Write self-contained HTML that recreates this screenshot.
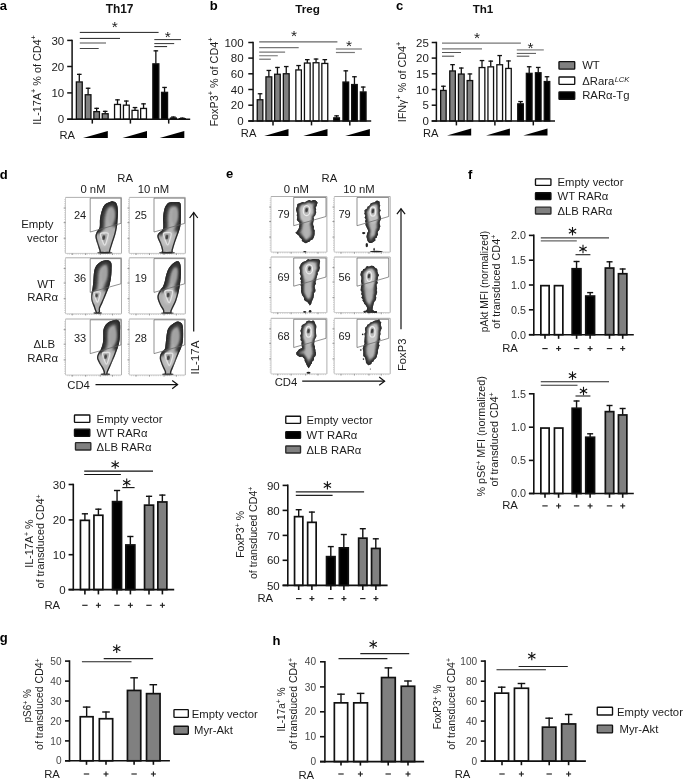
<!DOCTYPE html>
<html><head><meta charset="utf-8"><title>Figure</title>
<style>html,body{margin:0;padding:0;background:#fff;}svg{display:block;filter:grayscale(1);}text{font-family:"Liberation Sans",sans-serif;}</style>
</head><body>
<svg width="685" height="779" viewBox="0 0 685 779">
<rect x="0" y="0" width="685" height="779" fill="#fff"/>
<defs>
<filter id="b1" x="-30%" y="-30%" width="160%" height="160%"><feGaussianBlur stdDeviation="1.1"/></filter>
<filter id="b2" x="-30%" y="-30%" width="160%" height="160%"><feGaussianBlur stdDeviation="1.8"/></filter>
<filter id="b14" x="-30%" y="-30%" width="160%" height="160%"><feGaussianBlur stdDeviation="1.4"/></filter>
<filter id="b08" x="-30%" y="-30%" width="160%" height="160%"><feGaussianBlur stdDeviation="0.8"/></filter>
<filter id="soft" x="-10%" y="-10%" width="120%" height="120%"><feGaussianBlur stdDeviation="0.4"/></filter>
<filter id="b05" x="-30%" y="-30%" width="160%" height="160%"><feGaussianBlur stdDeviation="0.6"/></filter>
</defs>
<text x="-0.3" y="10.2" font-size="13" text-anchor="start" font-weight="bold" fill="#000" >a</text>
<text x="119.6" y="13.3" font-size="11.9" text-anchor="middle" font-weight="bold" fill="#111" >Th17</text>
<line x1="79.3" y1="81.8" x2="79.3" y2="73.8" stroke="#111" stroke-width="1.3" stroke-linecap="butt"/>
<line x1="77" y1="74.35" x2="81.6" y2="74.35" stroke="#111" stroke-width="1.3" stroke-linecap="butt"/>
<rect x="76.35" y="81.95" width="5.9" height="37.25" fill="#808080" stroke="#111" stroke-width="1.3"/>
<line x1="88.1" y1="94.6" x2="88.1" y2="87.7" stroke="#111" stroke-width="1.3" stroke-linecap="butt"/>
<line x1="85.8" y1="88.25" x2="90.4" y2="88.25" stroke="#111" stroke-width="1.3" stroke-linecap="butt"/>
<rect x="85.25" y="94.75" width="5.7" height="24.45" fill="#808080" stroke="#111" stroke-width="1.3"/>
<line x1="96.65" y1="111.5" x2="96.65" y2="107.8" stroke="#111" stroke-width="1.3" stroke-linecap="butt"/>
<line x1="94.35" y1="108.35" x2="98.95" y2="108.35" stroke="#111" stroke-width="1.3" stroke-linecap="butt"/>
<rect x="93.85" y="111.65" width="5.6" height="7.55" fill="#808080" stroke="#111" stroke-width="1.3"/>
<line x1="105.2" y1="113.6" x2="105.2" y2="110.8" stroke="#111" stroke-width="1.3" stroke-linecap="butt"/>
<line x1="102.9" y1="111.35" x2="107.5" y2="111.35" stroke="#111" stroke-width="1.3" stroke-linecap="butt"/>
<rect x="102.25" y="113.75" width="5.9" height="5.45" fill="#808080" stroke="#111" stroke-width="1.3"/>
<line x1="117.5" y1="104.3" x2="117.5" y2="99.3" stroke="#111" stroke-width="1.3" stroke-linecap="butt"/>
<line x1="115.2" y1="99.85" x2="119.8" y2="99.85" stroke="#111" stroke-width="1.3" stroke-linecap="butt"/>
<rect x="114.55" y="104.45" width="5.9" height="14.75" fill="#ffffff" stroke="#111" stroke-width="1.3"/>
<line x1="126.35" y1="105" x2="126.35" y2="100.5" stroke="#111" stroke-width="1.3" stroke-linecap="butt"/>
<line x1="124.05" y1="101.05" x2="128.65" y2="101.05" stroke="#111" stroke-width="1.3" stroke-linecap="butt"/>
<rect x="123.45" y="105.15" width="5.8" height="14.05" fill="#ffffff" stroke="#111" stroke-width="1.3"/>
<line x1="135" y1="110.2" x2="135" y2="107" stroke="#111" stroke-width="1.3" stroke-linecap="butt"/>
<line x1="132.7" y1="107.55" x2="137.3" y2="107.55" stroke="#111" stroke-width="1.3" stroke-linecap="butt"/>
<rect x="132.05" y="110.35" width="5.9" height="8.85" fill="#ffffff" stroke="#111" stroke-width="1.3"/>
<line x1="143.55" y1="108.3" x2="143.55" y2="103.3" stroke="#111" stroke-width="1.3" stroke-linecap="butt"/>
<line x1="141.25" y1="103.85" x2="145.85" y2="103.85" stroke="#111" stroke-width="1.3" stroke-linecap="butt"/>
<rect x="140.65" y="108.45" width="5.8" height="10.75" fill="#ffffff" stroke="#111" stroke-width="1.3"/>
<line x1="155.85" y1="63.7" x2="155.85" y2="50.3" stroke="#111" stroke-width="1.3" stroke-linecap="butt"/>
<line x1="153.55" y1="50.85" x2="158.15" y2="50.85" stroke="#111" stroke-width="1.3" stroke-linecap="butt"/>
<rect x="152.85" y="63.85" width="6" height="55.35" fill="#000000" stroke="#111" stroke-width="1.3"/>
<line x1="164.55" y1="92.2" x2="164.55" y2="86.9" stroke="#111" stroke-width="1.3" stroke-linecap="butt"/>
<line x1="162.25" y1="87.45" x2="166.85" y2="87.45" stroke="#111" stroke-width="1.3" stroke-linecap="butt"/>
<rect x="161.55" y="92.35" width="6" height="26.85" fill="#000000" stroke="#111" stroke-width="1.3"/>
<line x1="173.4" y1="117.9" x2="173.4" y2="116.5" stroke="#111" stroke-width="1.3" stroke-linecap="butt"/>
<line x1="171.1" y1="117.05" x2="175.7" y2="117.05" stroke="#111" stroke-width="1.3" stroke-linecap="butt"/>
<rect x="169.8" y="117.4" width="7.2" height="1.8" fill="#111"/>
<line x1="182.3" y1="118.5" x2="182.3" y2="117.6" stroke="#111" stroke-width="1.3" stroke-linecap="butt"/>
<line x1="180" y1="118.15" x2="184.6" y2="118.15" stroke="#111" stroke-width="1.3" stroke-linecap="butt"/>
<rect x="178.7" y="118" width="7.2" height="1.2" fill="#111"/>
<line x1="72.1" y1="39.65" x2="72.1" y2="119.95" stroke="#111" stroke-width="1.5" stroke-linecap="butt"/>
<line x1="67.2" y1="119.2" x2="190.2" y2="119.2" stroke="#111" stroke-width="1.5" stroke-linecap="butt"/>
<line x1="67.2" y1="40.4" x2="72.1" y2="40.4" stroke="#111" stroke-width="1.5" stroke-linecap="butt"/>
<text x="64.2" y="44.52" font-size="11.5" text-anchor="end" font-weight="normal" fill="#1c1c1c" >30</text>
<line x1="67.2" y1="66.5" x2="72.1" y2="66.5" stroke="#111" stroke-width="1.5" stroke-linecap="butt"/>
<text x="64.2" y="70.62" font-size="11.5" text-anchor="end" font-weight="normal" fill="#1c1c1c" >20</text>
<line x1="67.2" y1="92.9" x2="72.1" y2="92.9" stroke="#111" stroke-width="1.5" stroke-linecap="butt"/>
<text x="64.2" y="97.02" font-size="11.5" text-anchor="end" font-weight="normal" fill="#1c1c1c" >10</text>
<line x1="67.2" y1="119.2" x2="72.1" y2="119.2" stroke="#111" stroke-width="1.5" stroke-linecap="butt"/>
<text x="64.2" y="123.32" font-size="11.5" text-anchor="end" font-weight="normal" fill="#1c1c1c" >0</text>
<line x1="92.3" y1="119.2" x2="92.3" y2="123.6" stroke="#111" stroke-width="1.5" stroke-linecap="butt"/>
<line x1="130.4" y1="119.2" x2="130.4" y2="123.6" stroke="#111" stroke-width="1.5" stroke-linecap="butt"/>
<line x1="168.7" y1="119.2" x2="168.7" y2="123.6" stroke="#111" stroke-width="1.5" stroke-linecap="butt"/>
<text x="41.1" y="80" font-size="10.8" text-anchor="middle" font-weight="normal" fill="#1c1c1c" transform="rotate(-90 41.1 80)" >IL-17A<tspan font-size="7.34" dy="-4.97">+</tspan><tspan dy="4.97"> % of CD4</tspan><tspan font-size="7.34" dy="-4.97">+</tspan></text>
<text x="59.5" y="138.7" font-size="11.2" text-anchor="start" font-weight="normal" fill="#1c1c1c" >RA</text>
<polygon points="83,138 107.8,138 107.8,131" fill="#000"/>
<polygon points="122.5,138 147,138 147,131" fill="#000"/>
<polygon points="159.7,138 184.3,138 184.3,131" fill="#000"/>
<line x1="79.8" y1="32.4" x2="158.6" y2="32.4" stroke="#222" stroke-width="1" stroke-linecap="butt"/>
<line x1="79.8" y1="38.4" x2="120" y2="38.4" stroke="#222" stroke-width="1" stroke-linecap="butt"/>
<line x1="79.8" y1="43" x2="106" y2="43" stroke="#777" stroke-width="1.3" stroke-linecap="butt"/>
<line x1="79.8" y1="48.5" x2="98.7" y2="48.5" stroke="#444" stroke-width="1" stroke-linecap="butt"/>
<text x="114.7" y="32.48" font-size="15.5" text-anchor="middle" font-weight="normal" fill="#1c1c1c" >*</text>
<line x1="154.3" y1="39.6" x2="181" y2="39.6" stroke="#333" stroke-width="1" stroke-linecap="butt"/>
<line x1="154.3" y1="43.6" x2="174.2" y2="43.6" stroke="#333" stroke-width="1" stroke-linecap="butt"/>
<line x1="154.3" y1="46.6" x2="167.1" y2="46.6" stroke="#222" stroke-width="1" stroke-linecap="butt"/>
<text x="167.7" y="42.09" font-size="15.5" text-anchor="middle" font-weight="normal" fill="#1c1c1c" >*</text>
<text x="209.8" y="10.2" font-size="13" text-anchor="start" font-weight="bold" fill="#000" >b</text>
<text x="307.5" y="13.3" font-size="11.7" text-anchor="middle" font-weight="bold" fill="#111" >Treg</text>
<line x1="260.05" y1="99.6" x2="260.05" y2="93.2" stroke="#111" stroke-width="1.3" stroke-linecap="butt"/>
<line x1="257.75" y1="93.75" x2="262.35" y2="93.75" stroke="#111" stroke-width="1.3" stroke-linecap="butt"/>
<rect x="257.25" y="99.75" width="5.6" height="21.25" fill="#808080" stroke="#111" stroke-width="1.3"/>
<line x1="268.85" y1="76.7" x2="268.85" y2="69.9" stroke="#111" stroke-width="1.3" stroke-linecap="butt"/>
<line x1="266.55" y1="70.45" x2="271.15" y2="70.45" stroke="#111" stroke-width="1.3" stroke-linecap="butt"/>
<rect x="265.95" y="76.85" width="5.8" height="44.15" fill="#808080" stroke="#111" stroke-width="1.3"/>
<line x1="277.45" y1="74.1" x2="277.45" y2="66.9" stroke="#111" stroke-width="1.3" stroke-linecap="butt"/>
<line x1="275.15" y1="67.45" x2="279.75" y2="67.45" stroke="#111" stroke-width="1.3" stroke-linecap="butt"/>
<rect x="274.65" y="74.25" width="5.6" height="46.75" fill="#808080" stroke="#111" stroke-width="1.3"/>
<line x1="286.25" y1="73.6" x2="286.25" y2="66" stroke="#111" stroke-width="1.3" stroke-linecap="butt"/>
<line x1="283.95" y1="66.55" x2="288.55" y2="66.55" stroke="#111" stroke-width="1.3" stroke-linecap="butt"/>
<rect x="283.35" y="73.75" width="5.8" height="47.25" fill="#808080" stroke="#111" stroke-width="1.3"/>
<line x1="298.6" y1="69.8" x2="298.6" y2="65" stroke="#111" stroke-width="1.3" stroke-linecap="butt"/>
<line x1="296.3" y1="65.55" x2="300.9" y2="65.55" stroke="#111" stroke-width="1.3" stroke-linecap="butt"/>
<rect x="295.85" y="69.95" width="5.5" height="51.05" fill="#ffffff" stroke="#111" stroke-width="1.3"/>
<line x1="307.3" y1="62.9" x2="307.3" y2="59.1" stroke="#111" stroke-width="1.3" stroke-linecap="butt"/>
<line x1="305" y1="59.65" x2="309.6" y2="59.65" stroke="#111" stroke-width="1.3" stroke-linecap="butt"/>
<rect x="304.45" y="63.05" width="5.7" height="57.95" fill="#ffffff" stroke="#111" stroke-width="1.3"/>
<line x1="316.05" y1="62.6" x2="316.05" y2="58.5" stroke="#111" stroke-width="1.3" stroke-linecap="butt"/>
<line x1="313.75" y1="59.05" x2="318.35" y2="59.05" stroke="#111" stroke-width="1.3" stroke-linecap="butt"/>
<rect x="313.15" y="62.75" width="5.8" height="58.25" fill="#ffffff" stroke="#111" stroke-width="1.3"/>
<line x1="324.8" y1="63.3" x2="324.8" y2="59.1" stroke="#111" stroke-width="1.3" stroke-linecap="butt"/>
<line x1="322.5" y1="59.65" x2="327.1" y2="59.65" stroke="#111" stroke-width="1.3" stroke-linecap="butt"/>
<rect x="321.85" y="63.45" width="5.9" height="57.55" fill="#ffffff" stroke="#111" stroke-width="1.3"/>
<line x1="336.6" y1="117.7" x2="336.6" y2="115.3" stroke="#111" stroke-width="1.3" stroke-linecap="butt"/>
<line x1="334.3" y1="115.85" x2="338.9" y2="115.85" stroke="#111" stroke-width="1.3" stroke-linecap="butt"/>
<rect x="333.75" y="117.85" width="5.7" height="3.15" fill="#000000" stroke="#111" stroke-width="1.3"/>
<line x1="345.8" y1="81.9" x2="345.8" y2="70.3" stroke="#111" stroke-width="1.3" stroke-linecap="butt"/>
<line x1="343.5" y1="70.85" x2="348.1" y2="70.85" stroke="#111" stroke-width="1.3" stroke-linecap="butt"/>
<rect x="342.95" y="82.05" width="5.7" height="38.95" fill="#000000" stroke="#111" stroke-width="1.3"/>
<line x1="354.45" y1="84.4" x2="354.45" y2="76.2" stroke="#111" stroke-width="1.3" stroke-linecap="butt"/>
<line x1="352.15" y1="76.75" x2="356.75" y2="76.75" stroke="#111" stroke-width="1.3" stroke-linecap="butt"/>
<rect x="351.65" y="84.55" width="5.6" height="36.45" fill="#000000" stroke="#111" stroke-width="1.3"/>
<line x1="363.2" y1="91.8" x2="363.2" y2="86.5" stroke="#111" stroke-width="1.3" stroke-linecap="butt"/>
<line x1="360.9" y1="87.05" x2="365.5" y2="87.05" stroke="#111" stroke-width="1.3" stroke-linecap="butt"/>
<rect x="360.35" y="91.95" width="5.7" height="29.05" fill="#000000" stroke="#111" stroke-width="1.3"/>
<line x1="253.1" y1="41.75" x2="253.1" y2="121.75" stroke="#111" stroke-width="1.5" stroke-linecap="butt"/>
<line x1="248.3" y1="121" x2="371.2" y2="121" stroke="#111" stroke-width="1.5" stroke-linecap="butt"/>
<line x1="248.3" y1="42.5" x2="253.1" y2="42.5" stroke="#111" stroke-width="1.5" stroke-linecap="butt"/>
<text x="243.6" y="46.62" font-size="11.5" text-anchor="end" font-weight="normal" fill="#1c1c1c" >100</text>
<line x1="248.3" y1="58.1" x2="253.1" y2="58.1" stroke="#111" stroke-width="1.5" stroke-linecap="butt"/>
<text x="243.6" y="62.22" font-size="11.5" text-anchor="end" font-weight="normal" fill="#1c1c1c" >80</text>
<line x1="248.3" y1="73.8" x2="253.1" y2="73.8" stroke="#111" stroke-width="1.5" stroke-linecap="butt"/>
<text x="243.6" y="77.92" font-size="11.5" text-anchor="end" font-weight="normal" fill="#1c1c1c" >60</text>
<line x1="248.3" y1="89.5" x2="253.1" y2="89.5" stroke="#111" stroke-width="1.5" stroke-linecap="butt"/>
<text x="243.6" y="93.62" font-size="11.5" text-anchor="end" font-weight="normal" fill="#1c1c1c" >40</text>
<line x1="248.3" y1="105.2" x2="253.1" y2="105.2" stroke="#111" stroke-width="1.5" stroke-linecap="butt"/>
<text x="243.6" y="109.32" font-size="11.5" text-anchor="end" font-weight="normal" fill="#1c1c1c" >20</text>
<line x1="248.3" y1="121" x2="253.1" y2="121" stroke="#111" stroke-width="1.5" stroke-linecap="butt"/>
<text x="243.6" y="125.12" font-size="11.5" text-anchor="end" font-weight="normal" fill="#1c1c1c" >0</text>
<line x1="273" y1="121" x2="273" y2="125.4" stroke="#111" stroke-width="1.5" stroke-linecap="butt"/>
<line x1="311.5" y1="121" x2="311.5" y2="125.4" stroke="#111" stroke-width="1.5" stroke-linecap="butt"/>
<line x1="349.8" y1="121" x2="349.8" y2="125.4" stroke="#111" stroke-width="1.5" stroke-linecap="butt"/>
<text x="218.3" y="82" font-size="10.8" text-anchor="middle" font-weight="normal" fill="#1c1c1c" transform="rotate(-90 218.3 82)" >FoxP3<tspan font-size="7.34" dy="-4.97">+</tspan><tspan dy="4.97"> % of CD4</tspan><tspan font-size="7.34" dy="-4.97">+</tspan></text>
<text x="240.8" y="137" font-size="11.2" text-anchor="start" font-weight="normal" fill="#1c1c1c" >RA</text>
<polygon points="264.2,136 288.5,136 288.5,129" fill="#000"/>
<polygon points="303.3,136 327.5,136 327.5,129" fill="#000"/>
<polygon points="345.2,136 369.9,136 369.9,129" fill="#000"/>
<line x1="259.2" y1="41.9" x2="337.4" y2="41.9" stroke="#666" stroke-width="1.2" stroke-linecap="butt"/>
<line x1="259.2" y1="47.7" x2="298.7" y2="47.7" stroke="#777" stroke-width="1.2" stroke-linecap="butt"/>
<line x1="259.2" y1="52.1" x2="285.1" y2="52.1" stroke="#555" stroke-width="1" stroke-linecap="butt"/>
<line x1="259.2" y1="55.7" x2="277.8" y2="55.7" stroke="#888" stroke-width="1.2" stroke-linecap="butt"/>
<line x1="259.2" y1="59.2" x2="270.8" y2="59.2" stroke="#555" stroke-width="1" stroke-linecap="butt"/>
<text x="294" y="41.28" font-size="15.5" text-anchor="middle" font-weight="normal" fill="#1c1c1c" >*</text>
<line x1="335.9" y1="49" x2="361.9" y2="49" stroke="#777" stroke-width="1.2" stroke-linecap="butt"/>
<line x1="335.9" y1="52.5" x2="354.9" y2="52.5" stroke="#777" stroke-width="1.2" stroke-linecap="butt"/>
<text x="348.9" y="50.78" font-size="15.5" text-anchor="middle" font-weight="normal" fill="#1c1c1c" >*</text>
<text x="396" y="10.2" font-size="13" text-anchor="start" font-weight="bold" fill="#000" >c</text>
<text x="483" y="13.3" font-size="11.6" text-anchor="middle" font-weight="bold" fill="#111" >Th1</text>
<line x1="443.4" y1="90.3" x2="443.4" y2="85.7" stroke="#111" stroke-width="1.3" stroke-linecap="butt"/>
<line x1="441.1" y1="86.25" x2="445.7" y2="86.25" stroke="#111" stroke-width="1.3" stroke-linecap="butt"/>
<rect x="440.65" y="90.45" width="5.5" height="30.55" fill="#808080" stroke="#111" stroke-width="1.3"/>
<line x1="452.55" y1="70.8" x2="452.55" y2="64.1" stroke="#111" stroke-width="1.3" stroke-linecap="butt"/>
<line x1="450.25" y1="64.65" x2="454.85" y2="64.65" stroke="#111" stroke-width="1.3" stroke-linecap="butt"/>
<rect x="449.75" y="70.95" width="5.6" height="50.05" fill="#808080" stroke="#111" stroke-width="1.3"/>
<line x1="461.3" y1="73.9" x2="461.3" y2="67.5" stroke="#111" stroke-width="1.3" stroke-linecap="butt"/>
<line x1="459" y1="68.05" x2="463.6" y2="68.05" stroke="#111" stroke-width="1.3" stroke-linecap="butt"/>
<rect x="458.45" y="74.05" width="5.7" height="46.95" fill="#808080" stroke="#111" stroke-width="1.3"/>
<line x1="469.9" y1="80.4" x2="469.9" y2="73.4" stroke="#111" stroke-width="1.3" stroke-linecap="butt"/>
<line x1="467.6" y1="73.95" x2="472.2" y2="73.95" stroke="#111" stroke-width="1.3" stroke-linecap="butt"/>
<rect x="467.15" y="80.55" width="5.5" height="40.45" fill="#808080" stroke="#111" stroke-width="1.3"/>
<line x1="482" y1="67.4" x2="482" y2="60" stroke="#111" stroke-width="1.3" stroke-linecap="butt"/>
<line x1="479.7" y1="60.55" x2="484.3" y2="60.55" stroke="#111" stroke-width="1.3" stroke-linecap="butt"/>
<rect x="479.15" y="67.55" width="5.7" height="53.45" fill="#ffffff" stroke="#111" stroke-width="1.3"/>
<line x1="490.75" y1="66.7" x2="490.75" y2="60.6" stroke="#111" stroke-width="1.3" stroke-linecap="butt"/>
<line x1="488.45" y1="61.15" x2="493.05" y2="61.15" stroke="#111" stroke-width="1.3" stroke-linecap="butt"/>
<rect x="487.95" y="66.85" width="5.6" height="54.15" fill="#ffffff" stroke="#111" stroke-width="1.3"/>
<line x1="499.7" y1="64.6" x2="499.7" y2="55" stroke="#111" stroke-width="1.3" stroke-linecap="butt"/>
<line x1="497.4" y1="55.55" x2="502" y2="55.55" stroke="#111" stroke-width="1.3" stroke-linecap="butt"/>
<rect x="496.85" y="64.75" width="5.7" height="56.25" fill="#ffffff" stroke="#111" stroke-width="1.3"/>
<line x1="508.5" y1="68.3" x2="508.5" y2="60.4" stroke="#111" stroke-width="1.3" stroke-linecap="butt"/>
<line x1="506.2" y1="60.95" x2="510.8" y2="60.95" stroke="#111" stroke-width="1.3" stroke-linecap="butt"/>
<rect x="505.75" y="68.45" width="5.5" height="52.55" fill="#ffffff" stroke="#111" stroke-width="1.3"/>
<line x1="520.55" y1="103.7" x2="520.55" y2="101" stroke="#111" stroke-width="1.3" stroke-linecap="butt"/>
<line x1="518.25" y1="101.55" x2="522.85" y2="101.55" stroke="#111" stroke-width="1.3" stroke-linecap="butt"/>
<rect x="517.75" y="103.85" width="5.6" height="17.15" fill="#000000" stroke="#111" stroke-width="1.3"/>
<line x1="529.2" y1="73.2" x2="529.2" y2="66.2" stroke="#111" stroke-width="1.3" stroke-linecap="butt"/>
<line x1="526.9" y1="66.75" x2="531.5" y2="66.75" stroke="#111" stroke-width="1.3" stroke-linecap="butt"/>
<rect x="526.35" y="73.35" width="5.7" height="47.65" fill="#000000" stroke="#111" stroke-width="1.3"/>
<line x1="538.25" y1="72.6" x2="538.25" y2="66.9" stroke="#111" stroke-width="1.3" stroke-linecap="butt"/>
<line x1="535.95" y1="67.45" x2="540.55" y2="67.45" stroke="#111" stroke-width="1.3" stroke-linecap="butt"/>
<rect x="535.45" y="72.75" width="5.6" height="48.25" fill="#000000" stroke="#111" stroke-width="1.3"/>
<line x1="547" y1="81.4" x2="547" y2="76.2" stroke="#111" stroke-width="1.3" stroke-linecap="butt"/>
<line x1="544.7" y1="76.75" x2="549.3" y2="76.75" stroke="#111" stroke-width="1.3" stroke-linecap="butt"/>
<rect x="544.25" y="81.55" width="5.5" height="39.45" fill="#000000" stroke="#111" stroke-width="1.3"/>
<line x1="436.4" y1="41.75" x2="436.4" y2="121.75" stroke="#111" stroke-width="1.5" stroke-linecap="butt"/>
<line x1="431.7" y1="121" x2="555" y2="121" stroke="#111" stroke-width="1.5" stroke-linecap="butt"/>
<line x1="431.7" y1="42.5" x2="436.4" y2="42.5" stroke="#111" stroke-width="1.5" stroke-linecap="butt"/>
<text x="428.8" y="46.62" font-size="11.5" text-anchor="end" font-weight="normal" fill="#1c1c1c" >25</text>
<line x1="431.7" y1="58.1" x2="436.4" y2="58.1" stroke="#111" stroke-width="1.5" stroke-linecap="butt"/>
<text x="428.8" y="62.22" font-size="11.5" text-anchor="end" font-weight="normal" fill="#1c1c1c" >20</text>
<line x1="431.7" y1="73.8" x2="436.4" y2="73.8" stroke="#111" stroke-width="1.5" stroke-linecap="butt"/>
<text x="428.8" y="77.92" font-size="11.5" text-anchor="end" font-weight="normal" fill="#1c1c1c" >15</text>
<line x1="431.7" y1="89.5" x2="436.4" y2="89.5" stroke="#111" stroke-width="1.5" stroke-linecap="butt"/>
<text x="428.8" y="93.62" font-size="11.5" text-anchor="end" font-weight="normal" fill="#1c1c1c" >10</text>
<line x1="431.7" y1="105.2" x2="436.4" y2="105.2" stroke="#111" stroke-width="1.5" stroke-linecap="butt"/>
<text x="428.8" y="109.32" font-size="11.5" text-anchor="end" font-weight="normal" fill="#1c1c1c" >5</text>
<line x1="431.7" y1="121" x2="436.4" y2="121" stroke="#111" stroke-width="1.5" stroke-linecap="butt"/>
<text x="428.8" y="125.12" font-size="11.5" text-anchor="end" font-weight="normal" fill="#1c1c1c" >0</text>
<line x1="456.4" y1="121" x2="456.4" y2="125.4" stroke="#111" stroke-width="1.5" stroke-linecap="butt"/>
<line x1="494.9" y1="121" x2="494.9" y2="125.4" stroke="#111" stroke-width="1.5" stroke-linecap="butt"/>
<line x1="533.3" y1="121" x2="533.3" y2="125.4" stroke="#111" stroke-width="1.5" stroke-linecap="butt"/>
<text x="405.8" y="82" font-size="10.8" text-anchor="middle" font-weight="normal" fill="#1c1c1c" transform="rotate(-90 405.8 82)" >IFN&#947;<tspan font-size="7.34" dy="-4.97">+</tspan><tspan dy="4.97"> % of CD4</tspan><tspan font-size="7.34" dy="-4.97">+</tspan></text>
<text x="423" y="136.6" font-size="11.2" text-anchor="start" font-weight="normal" fill="#1c1c1c" >RA</text>
<polygon points="447,135.6 471.2,135.6 471.2,128.6" fill="#000"/>
<polygon points="486.1,135.6 509.9,135.6 509.9,128.6" fill="#000"/>
<polygon points="523.3,135.6 547.5,135.6 547.5,128.6" fill="#000"/>
<line x1="442" y1="43.2" x2="520.9" y2="43.2" stroke="#777" stroke-width="1.3" stroke-linecap="butt"/>
<line x1="442" y1="48.8" x2="482" y2="48.8" stroke="#777" stroke-width="1.3" stroke-linecap="butt"/>
<line x1="442" y1="52.5" x2="461" y2="52.5" stroke="#555" stroke-width="1" stroke-linecap="butt"/>
<line x1="442" y1="56.2" x2="454.1" y2="56.2" stroke="#444" stroke-width="1" stroke-linecap="butt"/>
<text x="477.1" y="42.78" font-size="15.5" text-anchor="middle" font-weight="normal" fill="#1c1c1c" >*</text>
<line x1="516.8" y1="49.9" x2="543.8" y2="49.9" stroke="#888" stroke-width="1.3" stroke-linecap="butt"/>
<line x1="516.8" y1="53.4" x2="536" y2="53.4" stroke="#555" stroke-width="1" stroke-linecap="butt"/>
<line x1="516.8" y1="56.2" x2="529.3" y2="56.2" stroke="#444" stroke-width="1" stroke-linecap="butt"/>
<text x="530.4" y="52.69" font-size="15.5" text-anchor="middle" font-weight="normal" fill="#1c1c1c" >*</text>
<rect x="558.98" y="61.67" width="15.75" height="7.45" rx="0.6" fill="#808080" stroke="#111" stroke-width="1.35"/>
<rect x="558.98" y="76.97" width="15.75" height="7.45" rx="0.6" fill="#fff" stroke="#111" stroke-width="1.35"/>
<rect x="558.98" y="91.88" width="15.75" height="7.35" rx="0.6" fill="#000" stroke="#111" stroke-width="1.35"/>
<text x="582.2" y="69.3" font-size="11.3" text-anchor="start" font-weight="normal" fill="#1c1c1c" >WT</text>
<text x="582.2" y="84.6" font-size="11.3" text-anchor="start" font-weight="normal" fill="#1c1c1c" >&#916;Rara<tspan font-size="7.6" font-style="italic" dy="-3.1" dx="0.4">LCK</tspan></text>
<text x="582.2" y="99.4" font-size="11.3" text-anchor="start" font-weight="normal" fill="#1c1c1c" >RAR&#945;-Tg</text>
<text x="-0.3" y="178.5" font-size="13" text-anchor="start" font-weight="bold" fill="#000" >d</text>
<text x="125.2" y="182.4" font-size="11.3" text-anchor="middle" font-weight="normal" fill="#1c1c1c" >RA</text>
<text x="93" y="192.6" font-size="11.3" text-anchor="middle" font-weight="normal" fill="#1c1c1c" >0 nM</text>
<text x="153.4" y="192.6" font-size="11.3" text-anchor="middle" font-weight="normal" fill="#1c1c1c" >10 nM</text>
<polyline points="65.5,197.4 121.5,197.4 121.5,253.4" fill="none" stroke="#a6a6a6" stroke-width="0.9"/>
<polyline points="65.5,197.4 65.5,253.4 121.5,253.4" fill="none" stroke="#bcbcbc" stroke-width="0.8"/>
<line x1="63.7" y1="208.04" x2="65.5" y2="208.04" stroke="#777" stroke-width="0.8" stroke-linecap="butt"/>
<line x1="63.7" y1="222.6" x2="65.5" y2="222.6" stroke="#777" stroke-width="0.8" stroke-linecap="butt"/>
<line x1="63.7" y1="238.28" x2="65.5" y2="238.28" stroke="#777" stroke-width="0.8" stroke-linecap="butt"/>
<line x1="72.22" y1="253.4" x2="72.22" y2="255" stroke="#777" stroke-width="0.8" stroke-linecap="butt"/>
<line x1="85.66" y1="253.4" x2="85.66" y2="255" stroke="#777" stroke-width="0.8" stroke-linecap="butt"/>
<line x1="100.22" y1="253.4" x2="100.22" y2="255" stroke="#777" stroke-width="0.8" stroke-linecap="butt"/>
<line x1="112.54" y1="253.4" x2="112.54" y2="255" stroke="#777" stroke-width="0.8" stroke-linecap="butt"/>
<line x1="64.7" y1="199.4" x2="64.7" y2="252.4" stroke="#aaa" stroke-width="0.7" stroke-dasharray="0.7 1.1"/>
<line x1="67.5" y1="254.1" x2="120.5" y2="254.1" stroke="#aaa" stroke-width="0.7" stroke-dasharray="0.7 1.1"/>
<ellipse cx="104.8" cy="252.7" rx="7.6" ry="1.0" fill="#4a4a4a" filter="url(#b05)"/>
<clipPath id="cd0"><path d="M113.1,201.4 C114.45,201.58 115.8,202.03 116.6,203.7 C117.4,205.37 117.77,208.45 117.9,211.4 C118.03,214.35 117.55,218.83 117.4,221.4 C117.25,223.97 117.33,224.6 117,226.8 C116.67,229 116.17,231.77 115.4,234.6 C114.63,237.43 113.25,241.13 112.4,243.8 C111.55,246.47 110.78,249.08 110.3,250.6 C109.82,252.12 111.2,252.52 109.5,252.9 C107.8,253.28 101.78,253.28 100.1,252.9 C98.42,252.52 99.87,252.12 99.4,250.6 C98.93,249.08 97.97,246.08 97.3,243.8 C96.63,241.52 95.52,238.83 95.4,236.9 C95.28,234.97 95.9,233.75 96.6,232.2 C97.3,230.65 99.03,229.78 99.6,227.6 C100.17,225.42 99.67,221.8 100,219.1 C100.33,216.4 100.88,213.7 101.6,211.4 C102.32,209.1 103.15,206.77 104.3,205.3 C105.45,203.83 107.03,203.25 108.5,202.6 C109.97,201.95 111.75,201.22 113.1,201.4Z"/></clipPath>
<g filter="url(#soft)">
<path d="M113.1,201.4 C114.45,201.58 115.8,202.03 116.6,203.7 C117.4,205.37 117.77,208.45 117.9,211.4 C118.03,214.35 117.55,218.83 117.4,221.4 C117.25,223.97 117.33,224.6 117,226.8 C116.67,229 116.17,231.77 115.4,234.6 C114.63,237.43 113.25,241.13 112.4,243.8 C111.55,246.47 110.78,249.08 110.3,250.6 C109.82,252.12 111.2,252.52 109.5,252.9 C107.8,253.28 101.78,253.28 100.1,252.9 C98.42,252.52 99.87,252.12 99.4,250.6 C98.93,249.08 97.97,246.08 97.3,243.8 C96.63,241.52 95.52,238.83 95.4,236.9 C95.28,234.97 95.9,233.75 96.6,232.2 C97.3,230.65 99.03,229.78 99.6,227.6 C100.17,225.42 99.67,221.8 100,219.1 C100.33,216.4 100.88,213.7 101.6,211.4 C102.32,209.1 103.15,206.77 104.3,205.3 C105.45,203.83 107.03,203.25 108.5,202.6 C109.97,201.95 111.75,201.22 113.1,201.4Z" fill="#b0b0b0"/>
<g clip-path="url(#cd0)">
<path d="M117,226.8 C117.07,225.9 117.25,223.97 117.4,221.4 C117.55,218.83 118.03,214.35 117.9,211.4 C117.77,208.45 117.4,205.37 116.6,203.7 C115.8,202.03 114.45,201.58 113.1,201.4 C111.75,201.22 109.97,201.95 108.5,202.6 C107.03,203.25 105.45,203.83 104.3,205.3 C103.15,206.77 102.32,209.1 101.6,211.4 C100.88,213.7 100.33,216.4 100,219.1 C99.67,221.8 100.17,225.42 99.6,227.6 C99.03,229.78 97.1,231.43 96.6,232.2" fill="none" stroke="#303030" stroke-width="9" stroke-linecap="butt" filter="url(#b14)"/>
<ellipse cx="111.7" cy="216.2" rx="3.5" ry="8.2" fill="#a2a2a2" filter="url(#b1)" transform="rotate(5 111.7 216.2)"/>
<path d="M113.1,201.4 C114.45,201.58 115.8,202.03 116.6,203.7 C117.4,205.37 117.77,208.45 117.9,211.4 C118.03,214.35 117.55,218.83 117.4,221.4 C117.25,223.97 117.33,224.6 117,226.8 C116.67,229 116.17,231.77 115.4,234.6 C114.63,237.43 113.25,241.13 112.4,243.8 C111.55,246.47 110.78,249.08 110.3,250.6 C109.82,252.12 111.2,252.52 109.5,252.9 C107.8,253.28 101.78,253.28 100.1,252.9 C98.42,252.52 99.87,252.12 99.4,250.6 C98.93,249.08 97.97,246.08 97.3,243.8 C96.63,241.52 95.52,238.83 95.4,236.9 C95.28,234.97 95.9,233.75 96.6,232.2 C97.3,230.65 99.03,229.78 99.6,227.6 C100.17,225.42 99.67,221.8 100,219.1 C100.33,216.4 100.88,213.7 101.6,211.4 C102.32,209.1 103.15,206.77 104.3,205.3 C105.45,203.83 107.03,203.25 108.5,202.6 C109.97,201.95 111.75,201.22 113.1,201.4Z" fill="none" stroke="#2a2a2a" stroke-width="2.7" filter="url(#b05)"/>
<ellipse cx="104.6" cy="238.7" rx="5.6" ry="8.2" fill="#c2c2c2" filter="url(#b1)" transform="rotate(12 104.3 237.9)"/>
<path d="M100.5,233.8 C100.87,232.63 103.03,233.03 104.3,233 C105.57,232.97 107.63,232.53 108.1,233.6 C108.57,234.67 107.65,237.47 107.1,239.4 C106.55,241.33 105.63,245.1 104.8,245.2 C103.97,245.3 102.82,241.9 102.1,240 C101.38,238.1 100.13,234.97 100.5,233.8Z" fill="#aeaeae" stroke="#e2e2e2" stroke-width="1.3" filter="url(#b05)"/>
<ellipse cx="103.8" cy="237.4" rx="1.5" ry="2.5" fill="#454545" filter="url(#b05)" transform="rotate(10 103.8 237.4)"/>
</g></g>
<polygon points="90.2,198.2 120.9,198.2 120.9,223.4 90.2,232" fill="none" stroke="#626262" stroke-width="0.7"/>
<text x="80" y="218.8" font-size="11" text-anchor="middle" font-weight="normal" fill="#1c1c1c" >24</text>
<polyline points="129.3,197.4 185.3,197.4 185.3,253.4" fill="none" stroke="#a6a6a6" stroke-width="0.9"/>
<polyline points="129.3,197.4 129.3,253.4 185.3,253.4" fill="none" stroke="#bcbcbc" stroke-width="0.8"/>
<line x1="127.5" y1="208.04" x2="129.3" y2="208.04" stroke="#777" stroke-width="0.8" stroke-linecap="butt"/>
<line x1="127.5" y1="222.6" x2="129.3" y2="222.6" stroke="#777" stroke-width="0.8" stroke-linecap="butt"/>
<line x1="127.5" y1="238.28" x2="129.3" y2="238.28" stroke="#777" stroke-width="0.8" stroke-linecap="butt"/>
<line x1="136.02" y1="253.4" x2="136.02" y2="255" stroke="#777" stroke-width="0.8" stroke-linecap="butt"/>
<line x1="149.46" y1="253.4" x2="149.46" y2="255" stroke="#777" stroke-width="0.8" stroke-linecap="butt"/>
<line x1="164.02" y1="253.4" x2="164.02" y2="255" stroke="#777" stroke-width="0.8" stroke-linecap="butt"/>
<line x1="176.34" y1="253.4" x2="176.34" y2="255" stroke="#777" stroke-width="0.8" stroke-linecap="butt"/>
<line x1="128.5" y1="199.4" x2="128.5" y2="252.4" stroke="#aaa" stroke-width="0.7" stroke-dasharray="0.7 1.1"/>
<line x1="131.3" y1="254.1" x2="184.3" y2="254.1" stroke="#aaa" stroke-width="0.7" stroke-dasharray="0.7 1.1"/>
<ellipse cx="167" cy="252.7" rx="8" ry="1.0" fill="#4a4a4a" filter="url(#b05)"/>
<clipPath id="cd1"><path d="M174.8,201.9 C176.28,201.92 178.2,201.78 179.2,202.3 C180.2,202.82 180.5,203.18 180.8,205 C181.1,206.82 181.05,209.92 181,213.2 C180.95,216.48 180.9,221.5 180.5,224.7 C180.1,227.9 179.48,229.5 178.6,232.4 C177.72,235.3 176.17,239.13 175.2,242.1 C174.23,245.07 173.32,248.4 172.8,250.2 C172.28,252 173.92,252.45 172.1,252.9 C170.28,253.35 163.58,253.35 161.9,252.9 C160.22,252.45 162.28,251.68 162,250.2 C161.72,248.72 160.97,246.15 160.2,244 C159.43,241.85 157.72,239.07 157.4,237.3 C157.08,235.53 157.35,234.88 158.3,233.4 C159.25,231.92 162.3,230.97 163.1,228.4 C163.9,225.83 162.87,221.27 163.1,218 C163.33,214.73 163.83,211.13 164.5,208.8 C165.17,206.47 166.13,205.1 167.1,204 C168.07,202.9 169.02,202.55 170.3,202.2 C171.58,201.85 173.32,201.88 174.8,201.9Z"/></clipPath>
<g filter="url(#soft)">
<path d="M174.8,201.9 C176.28,201.92 178.2,201.78 179.2,202.3 C180.2,202.82 180.5,203.18 180.8,205 C181.1,206.82 181.05,209.92 181,213.2 C180.95,216.48 180.9,221.5 180.5,224.7 C180.1,227.9 179.48,229.5 178.6,232.4 C177.72,235.3 176.17,239.13 175.2,242.1 C174.23,245.07 173.32,248.4 172.8,250.2 C172.28,252 173.92,252.45 172.1,252.9 C170.28,253.35 163.58,253.35 161.9,252.9 C160.22,252.45 162.28,251.68 162,250.2 C161.72,248.72 160.97,246.15 160.2,244 C159.43,241.85 157.72,239.07 157.4,237.3 C157.08,235.53 157.35,234.88 158.3,233.4 C159.25,231.92 162.3,230.97 163.1,228.4 C163.9,225.83 162.87,221.27 163.1,218 C163.33,214.73 163.83,211.13 164.5,208.8 C165.17,206.47 166.13,205.1 167.1,204 C168.07,202.9 169.02,202.55 170.3,202.2 C171.58,201.85 173.32,201.88 174.8,201.9Z" fill="#b0b0b0"/>
<g clip-path="url(#cd1)">
<path d="M178.6,232.4 C178.92,231.12 180.1,227.9 180.5,224.7 C180.9,221.5 180.95,216.48 181,213.2 C181.05,209.92 181.1,206.82 180.8,205 C180.5,203.18 180.2,202.82 179.2,202.3 C178.2,201.78 176.28,201.92 174.8,201.9 C173.32,201.88 171.58,201.85 170.3,202.2 C169.02,202.55 168.07,202.9 167.1,204 C166.13,205.1 165.17,206.47 164.5,208.8 C163.83,211.13 163.33,214.73 163.1,218 C162.87,221.27 163.9,225.83 163.1,228.4 C162.3,230.97 159.1,232.57 158.3,233.4" fill="none" stroke="#303030" stroke-width="9" stroke-linecap="butt" filter="url(#b14)"/>
<ellipse cx="174.7" cy="215.4" rx="3.5" ry="8.2" fill="#a2a2a2" filter="url(#b1)" transform="rotate(3 174.7 215.4)"/>
<path d="M174.8,201.9 C176.28,201.92 178.2,201.78 179.2,202.3 C180.2,202.82 180.5,203.18 180.8,205 C181.1,206.82 181.05,209.92 181,213.2 C180.95,216.48 180.9,221.5 180.5,224.7 C180.1,227.9 179.48,229.5 178.6,232.4 C177.72,235.3 176.17,239.13 175.2,242.1 C174.23,245.07 173.32,248.4 172.8,250.2 C172.28,252 173.92,252.45 172.1,252.9 C170.28,253.35 163.58,253.35 161.9,252.9 C160.22,252.45 162.28,251.68 162,250.2 C161.72,248.72 160.97,246.15 160.2,244 C159.43,241.85 157.72,239.07 157.4,237.3 C157.08,235.53 157.35,234.88 158.3,233.4 C159.25,231.92 162.3,230.97 163.1,228.4 C163.9,225.83 162.87,221.27 163.1,218 C163.33,214.73 163.83,211.13 164.5,208.8 C165.17,206.47 166.13,205.1 167.1,204 C168.07,202.9 169.02,202.55 170.3,202.2 C171.58,201.85 173.32,201.88 174.8,201.9Z" fill="none" stroke="#2a2a2a" stroke-width="2.7" filter="url(#b05)"/>
<ellipse cx="167.6" cy="238.4" rx="5.6" ry="8.2" fill="#c2c2c2" filter="url(#b1)" transform="rotate(12 167.3 237.6)"/>
<path d="M163.5,233.5 C163.87,232.33 166.03,232.73 167.3,232.7 C168.57,232.67 170.63,232.23 171.1,233.3 C171.57,234.37 170.65,237.17 170.1,239.1 C169.55,241.03 168.63,244.8 167.8,244.9 C166.97,245 165.82,241.6 165.1,239.7 C164.38,237.8 163.13,234.67 163.5,233.5Z" fill="#aeaeae" stroke="#e2e2e2" stroke-width="1.3" filter="url(#b05)"/>
<ellipse cx="166.8" cy="237.1" rx="1.5" ry="2.5" fill="#454545" filter="url(#b05)" transform="rotate(10 166.8 237.1)"/>
</g></g>
<polygon points="154,198.2 184.7,198.2 184.7,223.4 154,232" fill="none" stroke="#626262" stroke-width="0.7"/>
<text x="140.8" y="218.8" font-size="11" text-anchor="middle" font-weight="normal" fill="#1c1c1c" >25</text>
<polyline points="65.5,257.8 121.5,257.8 121.5,313.8" fill="none" stroke="#a6a6a6" stroke-width="0.9"/>
<polyline points="65.5,257.8 65.5,313.8 121.5,313.8" fill="none" stroke="#bcbcbc" stroke-width="0.8"/>
<line x1="63.7" y1="268.44" x2="65.5" y2="268.44" stroke="#777" stroke-width="0.8" stroke-linecap="butt"/>
<line x1="63.7" y1="283" x2="65.5" y2="283" stroke="#777" stroke-width="0.8" stroke-linecap="butt"/>
<line x1="63.7" y1="298.68" x2="65.5" y2="298.68" stroke="#777" stroke-width="0.8" stroke-linecap="butt"/>
<line x1="72.22" y1="313.8" x2="72.22" y2="315.4" stroke="#777" stroke-width="0.8" stroke-linecap="butt"/>
<line x1="85.66" y1="313.8" x2="85.66" y2="315.4" stroke="#777" stroke-width="0.8" stroke-linecap="butt"/>
<line x1="100.22" y1="313.8" x2="100.22" y2="315.4" stroke="#777" stroke-width="0.8" stroke-linecap="butt"/>
<line x1="112.54" y1="313.8" x2="112.54" y2="315.4" stroke="#777" stroke-width="0.8" stroke-linecap="butt"/>
<line x1="64.7" y1="259.8" x2="64.7" y2="312.8" stroke="#aaa" stroke-width="0.7" stroke-dasharray="0.7 1.1"/>
<line x1="67.5" y1="314.5" x2="120.5" y2="314.5" stroke="#aaa" stroke-width="0.7" stroke-dasharray="0.7 1.1"/>
<ellipse cx="97.7" cy="313.1" rx="4.3" ry="1.0" fill="#4a4a4a" filter="url(#b05)"/>
<clipPath id="cd2"><path d="M105.3,260.2 C106.67,260.08 108.28,260.13 109.3,260.7 C110.32,261.27 111.03,261.92 111.4,263.6 C111.77,265.28 111.58,268.35 111.5,270.8 C111.42,273.25 111.27,275.8 110.9,278.3 C110.53,280.8 109.92,283.58 109.3,285.8 C108.68,288.02 107.97,289.6 107.2,291.6 C106.43,293.6 105.48,295.92 104.7,297.8 C103.92,299.68 103.27,301.15 102.5,302.9 C101.73,304.65 100.5,306.92 100.1,308.3 C99.7,309.68 100.27,310.37 100.1,311.2 C99.93,312.03 99.73,312.95 99.1,313.3 C98.47,313.65 96.97,313.72 96.3,313.3 C95.63,312.88 95.53,311.9 95.1,310.8 C94.67,309.7 94.25,308.2 93.7,306.7 C93.15,305.2 92.23,303.38 91.8,301.8 C91.37,300.22 91.13,298.7 91.1,297.2 C91.07,295.7 91.38,294.07 91.6,292.8 C91.82,291.53 92.12,291.43 92.4,289.6 C92.68,287.77 93.03,284.63 93.3,281.8 C93.57,278.97 93.67,275 94,272.6 C94.33,270.2 94.67,268.83 95.3,267.4 C95.93,265.97 96.83,265 97.8,264 C98.77,263 99.85,262.03 101.1,261.4 C102.35,260.77 103.93,260.32 105.3,260.2Z"/></clipPath>
<g filter="url(#soft)">
<path d="M105.3,260.2 C106.67,260.08 108.28,260.13 109.3,260.7 C110.32,261.27 111.03,261.92 111.4,263.6 C111.77,265.28 111.58,268.35 111.5,270.8 C111.42,273.25 111.27,275.8 110.9,278.3 C110.53,280.8 109.92,283.58 109.3,285.8 C108.68,288.02 107.97,289.6 107.2,291.6 C106.43,293.6 105.48,295.92 104.7,297.8 C103.92,299.68 103.27,301.15 102.5,302.9 C101.73,304.65 100.5,306.92 100.1,308.3 C99.7,309.68 100.27,310.37 100.1,311.2 C99.93,312.03 99.73,312.95 99.1,313.3 C98.47,313.65 96.97,313.72 96.3,313.3 C95.63,312.88 95.53,311.9 95.1,310.8 C94.67,309.7 94.25,308.2 93.7,306.7 C93.15,305.2 92.23,303.38 91.8,301.8 C91.37,300.22 91.13,298.7 91.1,297.2 C91.07,295.7 91.38,294.07 91.6,292.8 C91.82,291.53 92.12,291.43 92.4,289.6 C92.68,287.77 93.03,284.63 93.3,281.8 C93.57,278.97 93.67,275 94,272.6 C94.33,270.2 94.67,268.83 95.3,267.4 C95.93,265.97 96.83,265 97.8,264 C98.77,263 99.85,262.03 101.1,261.4 C102.35,260.77 103.93,260.32 105.3,260.2Z" fill="#b0b0b0"/>
<g clip-path="url(#cd2)">
<path d="M107.2,291.6 C107.55,290.63 108.68,288.02 109.3,285.8 C109.92,283.58 110.53,280.8 110.9,278.3 C111.27,275.8 111.42,273.25 111.5,270.8 C111.58,268.35 111.77,265.28 111.4,263.6 C111.03,261.92 110.32,261.27 109.3,260.7 C108.28,260.13 106.67,260.08 105.3,260.2 C103.93,260.32 102.35,260.77 101.1,261.4 C99.85,262.03 98.77,263 97.8,264 C96.83,265 95.93,265.97 95.3,267.4 C94.67,268.83 94.33,270.2 94,272.6 C93.67,275 93.57,278.97 93.3,281.8 C93.03,284.63 92.68,287.77 92.4,289.6 C92.12,291.43 91.73,292.27 91.6,292.8" fill="none" stroke="#303030" stroke-width="9" stroke-linecap="butt" filter="url(#b14)"/>
<ellipse cx="104.1" cy="274.3" rx="3.2" ry="8.2" fill="#a2a2a2" filter="url(#b1)" transform="rotate(6 104.1 274.3)"/>
<path d="M105.3,260.2 C106.67,260.08 108.28,260.13 109.3,260.7 C110.32,261.27 111.03,261.92 111.4,263.6 C111.77,265.28 111.58,268.35 111.5,270.8 C111.42,273.25 111.27,275.8 110.9,278.3 C110.53,280.8 109.92,283.58 109.3,285.8 C108.68,288.02 107.97,289.6 107.2,291.6 C106.43,293.6 105.48,295.92 104.7,297.8 C103.92,299.68 103.27,301.15 102.5,302.9 C101.73,304.65 100.5,306.92 100.1,308.3 C99.7,309.68 100.27,310.37 100.1,311.2 C99.93,312.03 99.73,312.95 99.1,313.3 C98.47,313.65 96.97,313.72 96.3,313.3 C95.63,312.88 95.53,311.9 95.1,310.8 C94.67,309.7 94.25,308.2 93.7,306.7 C93.15,305.2 92.23,303.38 91.8,301.8 C91.37,300.22 91.13,298.7 91.1,297.2 C91.07,295.7 91.38,294.07 91.6,292.8 C91.82,291.53 92.12,291.43 92.4,289.6 C92.68,287.77 93.03,284.63 93.3,281.8 C93.57,278.97 93.67,275 94,272.6 C94.33,270.2 94.67,268.83 95.3,267.4 C95.93,265.97 96.83,265 97.8,264 C98.77,263 99.85,262.03 101.1,261.4 C102.35,260.77 103.93,260.32 105.3,260.2Z" fill="none" stroke="#2a2a2a" stroke-width="2.7" filter="url(#b05)"/>
<ellipse cx="97.4" cy="296.8" rx="4.59" ry="6.72" fill="#c2c2c2" filter="url(#b1)" transform="rotate(12 97.1 296)"/>
<path d="M93.98,292.64 C94.28,291.68 96.06,292.01 97.1,291.98 C98.14,291.95 99.83,291.6 100.22,292.47 C100.6,293.35 99.85,295.64 99.4,297.23 C98.94,298.82 98.19,301.9 97.51,301.99 C96.83,302.07 95.88,299.28 95.3,297.72 C94.71,296.16 93.68,293.59 93.98,292.64Z" fill="#aeaeae" stroke="#e2e2e2" stroke-width="1.3" filter="url(#b05)"/>
<ellipse cx="96.6" cy="295.5" rx="1.23" ry="2.05" fill="#454545" filter="url(#b05)" transform="rotate(10 96.6 295.5)"/>
</g></g>
<polygon points="90.2,258.6 120.9,258.6 120.9,283.8 90.2,292.4" fill="none" stroke="#626262" stroke-width="0.7"/>
<text x="80" y="281.9" font-size="11" text-anchor="middle" font-weight="normal" fill="#1c1c1c" >36</text>
<polyline points="129.3,257.8 185.3,257.8 185.3,313.8" fill="none" stroke="#a6a6a6" stroke-width="0.9"/>
<polyline points="129.3,257.8 129.3,313.8 185.3,313.8" fill="none" stroke="#bcbcbc" stroke-width="0.8"/>
<line x1="127.5" y1="268.44" x2="129.3" y2="268.44" stroke="#777" stroke-width="0.8" stroke-linecap="butt"/>
<line x1="127.5" y1="283" x2="129.3" y2="283" stroke="#777" stroke-width="0.8" stroke-linecap="butt"/>
<line x1="127.5" y1="298.68" x2="129.3" y2="298.68" stroke="#777" stroke-width="0.8" stroke-linecap="butt"/>
<line x1="136.02" y1="313.8" x2="136.02" y2="315.4" stroke="#777" stroke-width="0.8" stroke-linecap="butt"/>
<line x1="149.46" y1="313.8" x2="149.46" y2="315.4" stroke="#777" stroke-width="0.8" stroke-linecap="butt"/>
<line x1="164.02" y1="313.8" x2="164.02" y2="315.4" stroke="#777" stroke-width="0.8" stroke-linecap="butt"/>
<line x1="176.34" y1="313.8" x2="176.34" y2="315.4" stroke="#777" stroke-width="0.8" stroke-linecap="butt"/>
<line x1="128.5" y1="259.8" x2="128.5" y2="312.8" stroke="#aaa" stroke-width="0.7" stroke-dasharray="0.7 1.1"/>
<line x1="131.3" y1="314.5" x2="184.3" y2="314.5" stroke="#aaa" stroke-width="0.7" stroke-dasharray="0.7 1.1"/>
<ellipse cx="167.35" cy="313.1" rx="6.55" ry="1.0" fill="#4a4a4a" filter="url(#b05)"/>
<clipPath id="cd3"><path d="M178.1,261.2 C179.07,261.43 179.63,262.53 180.1,263.8 C180.57,265.07 180.78,266.63 180.9,268.8 C181.02,270.97 180.95,274.27 180.8,276.8 C180.65,279.33 180.38,281.33 180,284 C179.62,286.67 179.13,289.97 178.5,292.8 C177.87,295.63 177,298.7 176.2,301 C175.4,303.3 174.45,304.97 173.7,306.6 C172.95,308.23 172.15,309.68 171.7,310.8 C171.25,311.92 172.33,312.88 171,313.3 C169.67,313.72 165.05,313.82 163.7,313.3 C162.35,312.78 163.5,311.52 162.9,310.2 C162.3,308.88 160.88,306.93 160.1,305.4 C159.32,303.87 158.65,302.33 158.2,301 C157.75,299.67 157.47,298.5 157.4,297.4 C157.33,296.3 157.38,295.57 157.8,294.4 C158.22,293.23 159.05,291.67 159.9,290.4 C160.75,289.13 162.1,288.23 162.9,286.8 C163.7,285.37 164.22,283.53 164.7,281.8 C165.18,280.07 165.3,278.3 165.8,276.4 C166.3,274.5 166.92,272.15 167.7,270.4 C168.48,268.65 169.4,267.23 170.5,265.9 C171.6,264.57 173.03,263.18 174.3,262.4 C175.57,261.62 177.13,260.97 178.1,261.2Z"/></clipPath>
<g filter="url(#soft)">
<path d="M178.1,261.2 C179.07,261.43 179.63,262.53 180.1,263.8 C180.57,265.07 180.78,266.63 180.9,268.8 C181.02,270.97 180.95,274.27 180.8,276.8 C180.65,279.33 180.38,281.33 180,284 C179.62,286.67 179.13,289.97 178.5,292.8 C177.87,295.63 177,298.7 176.2,301 C175.4,303.3 174.45,304.97 173.7,306.6 C172.95,308.23 172.15,309.68 171.7,310.8 C171.25,311.92 172.33,312.88 171,313.3 C169.67,313.72 165.05,313.82 163.7,313.3 C162.35,312.78 163.5,311.52 162.9,310.2 C162.3,308.88 160.88,306.93 160.1,305.4 C159.32,303.87 158.65,302.33 158.2,301 C157.75,299.67 157.47,298.5 157.4,297.4 C157.33,296.3 157.38,295.57 157.8,294.4 C158.22,293.23 159.05,291.67 159.9,290.4 C160.75,289.13 162.1,288.23 162.9,286.8 C163.7,285.37 164.22,283.53 164.7,281.8 C165.18,280.07 165.3,278.3 165.8,276.4 C166.3,274.5 166.92,272.15 167.7,270.4 C168.48,268.65 169.4,267.23 170.5,265.9 C171.6,264.57 173.03,263.18 174.3,262.4 C175.57,261.62 177.13,260.97 178.1,261.2Z" fill="#b0b0b0"/>
<g clip-path="url(#cd3)">
<path d="M178.5,292.8 C178.75,291.33 179.62,286.67 180,284 C180.38,281.33 180.65,279.33 180.8,276.8 C180.95,274.27 181.02,270.97 180.9,268.8 C180.78,266.63 180.57,265.07 180.1,263.8 C179.63,262.53 179.07,261.43 178.1,261.2 C177.13,260.97 175.57,261.62 174.3,262.4 C173.03,263.18 171.6,264.57 170.5,265.9 C169.4,267.23 168.48,268.65 167.7,270.4 C166.92,272.15 166.3,274.5 165.8,276.4 C165.3,278.3 165.18,280.07 164.7,281.8 C164.22,283.53 163.7,285.37 162.9,286.8 C162.1,288.23 160.4,289.8 159.9,290.4" fill="none" stroke="#303030" stroke-width="9" stroke-linecap="butt" filter="url(#b14)"/>
<ellipse cx="174.7" cy="275.4" rx="2.7" ry="8" fill="#a2a2a2" filter="url(#b1)" transform="rotate(10 174.7 275.4)"/>
<path d="M178.1,261.2 C179.07,261.43 179.63,262.53 180.1,263.8 C180.57,265.07 180.78,266.63 180.9,268.8 C181.02,270.97 180.95,274.27 180.8,276.8 C180.65,279.33 180.38,281.33 180,284 C179.62,286.67 179.13,289.97 178.5,292.8 C177.87,295.63 177,298.7 176.2,301 C175.4,303.3 174.45,304.97 173.7,306.6 C172.95,308.23 172.15,309.68 171.7,310.8 C171.25,311.92 172.33,312.88 171,313.3 C169.67,313.72 165.05,313.82 163.7,313.3 C162.35,312.78 163.5,311.52 162.9,310.2 C162.3,308.88 160.88,306.93 160.1,305.4 C159.32,303.87 158.65,302.33 158.2,301 C157.75,299.67 157.47,298.5 157.4,297.4 C157.33,296.3 157.38,295.57 157.8,294.4 C158.22,293.23 159.05,291.67 159.9,290.4 C160.75,289.13 162.1,288.23 162.9,286.8 C163.7,285.37 164.22,283.53 164.7,281.8 C165.18,280.07 165.3,278.3 165.8,276.4 C166.3,274.5 166.92,272.15 167.7,270.4 C168.48,268.65 169.4,267.23 170.5,265.9 C171.6,264.57 173.03,263.18 174.3,262.4 C175.57,261.62 177.13,260.97 178.1,261.2Z" fill="none" stroke="#2a2a2a" stroke-width="2.7" filter="url(#b05)"/>
<ellipse cx="169" cy="296.2" rx="5.6" ry="8.2" fill="#c2c2c2" filter="url(#b1)" transform="rotate(12 168.7 295.4)"/>
<path d="M164.9,291.3 C165.27,290.13 167.43,290.53 168.7,290.5 C169.97,290.47 172.03,290.03 172.5,291.1 C172.97,292.17 172.05,294.97 171.5,296.9 C170.95,298.83 170.03,302.6 169.2,302.7 C168.37,302.8 167.22,299.4 166.5,297.5 C165.78,295.6 164.53,292.47 164.9,291.3Z" fill="#aeaeae" stroke="#e2e2e2" stroke-width="1.3" filter="url(#b05)"/>
<ellipse cx="168.2" cy="294.9" rx="1.5" ry="2.5" fill="#454545" filter="url(#b05)" transform="rotate(10 168.2 294.9)"/>
</g></g>
<polygon points="154,258.6 184.7,258.6 184.7,283.8 154,292.4" fill="none" stroke="#626262" stroke-width="0.7"/>
<text x="140.8" y="281.9" font-size="11" text-anchor="middle" font-weight="normal" fill="#1c1c1c" >19</text>
<polyline points="65.5,319 121.5,319 121.5,375" fill="none" stroke="#a6a6a6" stroke-width="0.9"/>
<polyline points="65.5,319 65.5,375 121.5,375" fill="none" stroke="#bcbcbc" stroke-width="0.8"/>
<line x1="63.7" y1="329.64" x2="65.5" y2="329.64" stroke="#777" stroke-width="0.8" stroke-linecap="butt"/>
<line x1="63.7" y1="344.2" x2="65.5" y2="344.2" stroke="#777" stroke-width="0.8" stroke-linecap="butt"/>
<line x1="63.7" y1="359.88" x2="65.5" y2="359.88" stroke="#777" stroke-width="0.8" stroke-linecap="butt"/>
<line x1="72.22" y1="375" x2="72.22" y2="376.6" stroke="#777" stroke-width="0.8" stroke-linecap="butt"/>
<line x1="85.66" y1="375" x2="85.66" y2="376.6" stroke="#777" stroke-width="0.8" stroke-linecap="butt"/>
<line x1="100.22" y1="375" x2="100.22" y2="376.6" stroke="#777" stroke-width="0.8" stroke-linecap="butt"/>
<line x1="112.54" y1="375" x2="112.54" y2="376.6" stroke="#777" stroke-width="0.8" stroke-linecap="butt"/>
<line x1="64.7" y1="321" x2="64.7" y2="374" stroke="#aaa" stroke-width="0.7" stroke-dasharray="0.7 1.1"/>
<line x1="67.5" y1="375.7" x2="120.5" y2="375.7" stroke="#aaa" stroke-width="0.7" stroke-dasharray="0.7 1.1"/>
<ellipse cx="105.4" cy="374.3" rx="4.8" ry="1.0" fill="#4a4a4a" filter="url(#b05)"/>
<clipPath id="cd4"><path d="M116.7,319.8 C117.77,319.98 118.73,320.65 119.3,321.6 C119.87,322.55 119.98,323.77 120.1,325.5 C120.22,327.23 120.08,329.67 120,332 C119.92,334.33 119.87,337.25 119.6,339.5 C119.33,341.75 118.88,343.62 118.4,345.5 C117.92,347.38 117.28,349.08 116.7,350.8 C116.12,352.52 115.53,354.22 114.9,355.8 C114.27,357.38 113.58,358.72 112.9,360.3 C112.22,361.88 111.48,363.72 110.8,365.3 C110.12,366.88 109.32,368.58 108.8,369.8 C108.28,371.02 107.95,371.82 107.7,372.6 C107.45,373.38 108,374.18 107.3,374.5 C106.6,374.82 104.1,374.88 103.5,374.5 C102.9,374.12 103.87,373.13 103.7,372.2 C103.53,371.27 103.13,370.17 102.5,368.9 C101.87,367.63 100.7,366.03 99.9,364.6 C99.1,363.17 98.18,361.43 97.7,360.3 C97.22,359.17 97.05,358.65 97,357.8 C96.95,356.95 97.12,356.1 97.4,355.2 C97.68,354.3 98.17,353.28 98.7,352.4 C99.23,351.52 100.03,350.97 100.6,349.9 C101.17,348.83 101.68,347.42 102.1,346 C102.52,344.58 102.9,343.15 103.1,341.4 C103.3,339.65 103.25,337.4 103.3,335.5 C103.35,333.6 103.15,331.55 103.4,330 C103.65,328.45 104.17,327.32 104.8,326.2 C105.43,325.08 106.35,324.07 107.2,323.3 C108.05,322.53 108.95,322.07 109.9,321.6 C110.85,321.13 111.77,320.8 112.9,320.5 C114.03,320.2 115.63,319.62 116.7,319.8Z"/></clipPath>
<g filter="url(#soft)">
<path d="M116.7,319.8 C117.77,319.98 118.73,320.65 119.3,321.6 C119.87,322.55 119.98,323.77 120.1,325.5 C120.22,327.23 120.08,329.67 120,332 C119.92,334.33 119.87,337.25 119.6,339.5 C119.33,341.75 118.88,343.62 118.4,345.5 C117.92,347.38 117.28,349.08 116.7,350.8 C116.12,352.52 115.53,354.22 114.9,355.8 C114.27,357.38 113.58,358.72 112.9,360.3 C112.22,361.88 111.48,363.72 110.8,365.3 C110.12,366.88 109.32,368.58 108.8,369.8 C108.28,371.02 107.95,371.82 107.7,372.6 C107.45,373.38 108,374.18 107.3,374.5 C106.6,374.82 104.1,374.88 103.5,374.5 C102.9,374.12 103.87,373.13 103.7,372.2 C103.53,371.27 103.13,370.17 102.5,368.9 C101.87,367.63 100.7,366.03 99.9,364.6 C99.1,363.17 98.18,361.43 97.7,360.3 C97.22,359.17 97.05,358.65 97,357.8 C96.95,356.95 97.12,356.1 97.4,355.2 C97.68,354.3 98.17,353.28 98.7,352.4 C99.23,351.52 100.03,350.97 100.6,349.9 C101.17,348.83 101.68,347.42 102.1,346 C102.52,344.58 102.9,343.15 103.1,341.4 C103.3,339.65 103.25,337.4 103.3,335.5 C103.35,333.6 103.15,331.55 103.4,330 C103.65,328.45 104.17,327.32 104.8,326.2 C105.43,325.08 106.35,324.07 107.2,323.3 C108.05,322.53 108.95,322.07 109.9,321.6 C110.85,321.13 111.77,320.8 112.9,320.5 C114.03,320.2 115.63,319.62 116.7,319.8Z" fill="#b0b0b0"/>
<g clip-path="url(#cd4)">
<path d="M116.7,350.8 C116.98,349.92 117.92,347.38 118.4,345.5 C118.88,343.62 119.33,341.75 119.6,339.5 C119.87,337.25 119.92,334.33 120,332 C120.08,329.67 120.22,327.23 120.1,325.5 C119.98,323.77 119.87,322.55 119.3,321.6 C118.73,320.65 117.77,319.98 116.7,319.8 C115.63,319.62 114.03,320.2 112.9,320.5 C111.77,320.8 110.85,321.13 109.9,321.6 C108.95,322.07 108.05,322.53 107.2,323.3 C106.35,324.07 105.43,325.08 104.8,326.2 C104.17,327.32 103.65,328.45 103.4,330 C103.15,331.55 103.35,333.6 103.3,335.5 C103.25,337.4 103.3,339.65 103.1,341.4 C102.9,343.15 102.52,344.58 102.1,346 C101.68,347.42 101.17,348.83 100.6,349.9 C100.03,350.97 99.02,351.98 98.7,352.4" fill="none" stroke="#303030" stroke-width="9" stroke-linecap="butt" filter="url(#b14)"/>
<ellipse cx="112.7" cy="336.4" rx="4" ry="8.8" fill="#a2a2a2" filter="url(#b1)" transform="rotate(4 112.7 336.4)"/>
<path d="M116.7,319.8 C117.77,319.98 118.73,320.65 119.3,321.6 C119.87,322.55 119.98,323.77 120.1,325.5 C120.22,327.23 120.08,329.67 120,332 C119.92,334.33 119.87,337.25 119.6,339.5 C119.33,341.75 118.88,343.62 118.4,345.5 C117.92,347.38 117.28,349.08 116.7,350.8 C116.12,352.52 115.53,354.22 114.9,355.8 C114.27,357.38 113.58,358.72 112.9,360.3 C112.22,361.88 111.48,363.72 110.8,365.3 C110.12,366.88 109.32,368.58 108.8,369.8 C108.28,371.02 107.95,371.82 107.7,372.6 C107.45,373.38 108,374.18 107.3,374.5 C106.6,374.82 104.1,374.88 103.5,374.5 C102.9,374.12 103.87,373.13 103.7,372.2 C103.53,371.27 103.13,370.17 102.5,368.9 C101.87,367.63 100.7,366.03 99.9,364.6 C99.1,363.17 98.18,361.43 97.7,360.3 C97.22,359.17 97.05,358.65 97,357.8 C96.95,356.95 97.12,356.1 97.4,355.2 C97.68,354.3 98.17,353.28 98.7,352.4 C99.23,351.52 100.03,350.97 100.6,349.9 C101.17,348.83 101.68,347.42 102.1,346 C102.52,344.58 102.9,343.15 103.1,341.4 C103.3,339.65 103.25,337.4 103.3,335.5 C103.35,333.6 103.15,331.55 103.4,330 C103.65,328.45 104.17,327.32 104.8,326.2 C105.43,325.08 106.35,324.07 107.2,323.3 C108.05,322.53 108.95,322.07 109.9,321.6 C110.85,321.13 111.77,320.8 112.9,320.5 C114.03,320.2 115.63,319.62 116.7,319.8Z" fill="none" stroke="#2a2a2a" stroke-width="2.7" filter="url(#b05)"/>
<ellipse cx="106.4" cy="358" rx="5.32" ry="7.79" fill="#c2c2c2" filter="url(#b1)" transform="rotate(12 106.1 357.2)"/>
<path d="M102.49,353.31 C102.84,352.2 104.9,352.58 106.1,352.55 C107.3,352.51 109.27,352.1 109.71,353.12 C110.15,354.13 109.28,356.79 108.76,358.62 C108.24,360.46 107.37,364.04 106.57,364.13 C105.78,364.23 104.69,361 104.01,359.19 C103.33,357.39 102.14,354.41 102.49,353.31Z" fill="#aeaeae" stroke="#e2e2e2" stroke-width="1.3" filter="url(#b05)"/>
<ellipse cx="105.6" cy="356.7" rx="1.42" ry="2.38" fill="#454545" filter="url(#b05)" transform="rotate(10 105.6 356.7)"/>
</g></g>
<polygon points="90.2,319.8 120.9,319.8 120.9,345 90.2,353.6" fill="none" stroke="#626262" stroke-width="0.7"/>
<text x="80" y="341.5" font-size="11" text-anchor="middle" font-weight="normal" fill="#1c1c1c" >33</text>
<polyline points="129.3,319 185.3,319 185.3,375" fill="none" stroke="#a6a6a6" stroke-width="0.9"/>
<polyline points="129.3,319 129.3,375 185.3,375" fill="none" stroke="#bcbcbc" stroke-width="0.8"/>
<line x1="127.5" y1="329.64" x2="129.3" y2="329.64" stroke="#777" stroke-width="0.8" stroke-linecap="butt"/>
<line x1="127.5" y1="344.2" x2="129.3" y2="344.2" stroke="#777" stroke-width="0.8" stroke-linecap="butt"/>
<line x1="127.5" y1="359.88" x2="129.3" y2="359.88" stroke="#777" stroke-width="0.8" stroke-linecap="butt"/>
<line x1="136.02" y1="375" x2="136.02" y2="376.6" stroke="#777" stroke-width="0.8" stroke-linecap="butt"/>
<line x1="149.46" y1="375" x2="149.46" y2="376.6" stroke="#777" stroke-width="0.8" stroke-linecap="butt"/>
<line x1="164.02" y1="375" x2="164.02" y2="376.6" stroke="#777" stroke-width="0.8" stroke-linecap="butt"/>
<line x1="176.34" y1="375" x2="176.34" y2="376.6" stroke="#777" stroke-width="0.8" stroke-linecap="butt"/>
<line x1="128.5" y1="321" x2="128.5" y2="374" stroke="#aaa" stroke-width="0.7" stroke-dasharray="0.7 1.1"/>
<line x1="131.3" y1="375.7" x2="184.3" y2="375.7" stroke="#aaa" stroke-width="0.7" stroke-dasharray="0.7 1.1"/>
<ellipse cx="167.8" cy="374.3" rx="5.8" ry="1.0" fill="#4a4a4a" filter="url(#b05)"/>
<clipPath id="cd5"><path d="M178.1,321.4 C179.12,321.48 180.42,322.1 181.2,322.9 C181.98,323.7 182.48,324.43 182.8,326.2 C183.12,327.97 183.1,330.97 183.1,333.5 C183.1,336.03 183.12,339.07 182.8,341.4 C182.48,343.73 181.83,345.6 181.2,347.5 C180.57,349.4 179.68,351.12 179,352.8 C178.32,354.48 177.73,356.03 177.1,357.6 C176.47,359.17 175.85,360.6 175.2,362.2 C174.55,363.8 173.83,365.62 173.2,367.2 C172.57,368.78 171.82,370.48 171.4,371.7 C170.98,372.92 171.78,374.03 170.7,374.5 C169.62,374.97 165.88,374.97 164.9,374.5 C163.92,374.03 165.23,373.08 164.8,371.7 C164.37,370.32 163.08,368.1 162.3,366.2 C161.52,364.3 160.52,361.8 160.1,360.3 C159.68,358.8 159.75,358.15 159.8,357.2 C159.85,356.25 159.98,355.53 160.4,354.6 C160.82,353.67 161.57,352.53 162.3,351.6 C163.03,350.67 164.25,350.2 164.8,349 C165.35,347.8 165.38,345.98 165.6,344.4 C165.82,342.82 165.92,341.13 166.1,339.5 C166.28,337.87 166.45,336.18 166.7,334.6 C166.95,333.02 167.13,331.32 167.6,330 C168.07,328.68 168.7,327.65 169.5,326.7 C170.3,325.75 171.47,325.02 172.4,324.3 C173.33,323.58 174.15,322.88 175.1,322.4 C176.05,321.92 177.08,321.32 178.1,321.4Z"/></clipPath>
<g filter="url(#soft)">
<path d="M178.1,321.4 C179.12,321.48 180.42,322.1 181.2,322.9 C181.98,323.7 182.48,324.43 182.8,326.2 C183.12,327.97 183.1,330.97 183.1,333.5 C183.1,336.03 183.12,339.07 182.8,341.4 C182.48,343.73 181.83,345.6 181.2,347.5 C180.57,349.4 179.68,351.12 179,352.8 C178.32,354.48 177.73,356.03 177.1,357.6 C176.47,359.17 175.85,360.6 175.2,362.2 C174.55,363.8 173.83,365.62 173.2,367.2 C172.57,368.78 171.82,370.48 171.4,371.7 C170.98,372.92 171.78,374.03 170.7,374.5 C169.62,374.97 165.88,374.97 164.9,374.5 C163.92,374.03 165.23,373.08 164.8,371.7 C164.37,370.32 163.08,368.1 162.3,366.2 C161.52,364.3 160.52,361.8 160.1,360.3 C159.68,358.8 159.75,358.15 159.8,357.2 C159.85,356.25 159.98,355.53 160.4,354.6 C160.82,353.67 161.57,352.53 162.3,351.6 C163.03,350.67 164.25,350.2 164.8,349 C165.35,347.8 165.38,345.98 165.6,344.4 C165.82,342.82 165.92,341.13 166.1,339.5 C166.28,337.87 166.45,336.18 166.7,334.6 C166.95,333.02 167.13,331.32 167.6,330 C168.07,328.68 168.7,327.65 169.5,326.7 C170.3,325.75 171.47,325.02 172.4,324.3 C173.33,323.58 174.15,322.88 175.1,322.4 C176.05,321.92 177.08,321.32 178.1,321.4Z" fill="#b0b0b0"/>
<g clip-path="url(#cd5)">
<path d="M179,352.8 C179.37,351.92 180.57,349.4 181.2,347.5 C181.83,345.6 182.48,343.73 182.8,341.4 C183.12,339.07 183.1,336.03 183.1,333.5 C183.1,330.97 183.12,327.97 182.8,326.2 C182.48,324.43 181.98,323.7 181.2,322.9 C180.42,322.1 179.12,321.48 178.1,321.4 C177.08,321.32 176.05,321.92 175.1,322.4 C174.15,322.88 173.33,323.58 172.4,324.3 C171.47,325.02 170.3,325.75 169.5,326.7 C168.7,327.65 168.07,328.68 167.6,330 C167.13,331.32 166.95,333.02 166.7,334.6 C166.45,336.18 166.28,337.87 166.1,339.5 C165.92,341.13 165.82,342.82 165.6,344.4 C165.38,345.98 165.35,347.8 164.8,349 C164.25,350.2 163.03,350.67 162.3,351.6 C161.57,352.53 160.72,354.1 160.4,354.6" fill="none" stroke="#303030" stroke-width="9" stroke-linecap="butt" filter="url(#b14)"/>
<ellipse cx="175.7" cy="337.2" rx="3.8" ry="8.4" fill="#a2a2a2" filter="url(#b1)" transform="rotate(5 175.7 337.2)"/>
<path d="M178.1,321.4 C179.12,321.48 180.42,322.1 181.2,322.9 C181.98,323.7 182.48,324.43 182.8,326.2 C183.12,327.97 183.1,330.97 183.1,333.5 C183.1,336.03 183.12,339.07 182.8,341.4 C182.48,343.73 181.83,345.6 181.2,347.5 C180.57,349.4 179.68,351.12 179,352.8 C178.32,354.48 177.73,356.03 177.1,357.6 C176.47,359.17 175.85,360.6 175.2,362.2 C174.55,363.8 173.83,365.62 173.2,367.2 C172.57,368.78 171.82,370.48 171.4,371.7 C170.98,372.92 171.78,374.03 170.7,374.5 C169.62,374.97 165.88,374.97 164.9,374.5 C163.92,374.03 165.23,373.08 164.8,371.7 C164.37,370.32 163.08,368.1 162.3,366.2 C161.52,364.3 160.52,361.8 160.1,360.3 C159.68,358.8 159.75,358.15 159.8,357.2 C159.85,356.25 159.98,355.53 160.4,354.6 C160.82,353.67 161.57,352.53 162.3,351.6 C163.03,350.67 164.25,350.2 164.8,349 C165.35,347.8 165.38,345.98 165.6,344.4 C165.82,342.82 165.92,341.13 166.1,339.5 C166.28,337.87 166.45,336.18 166.7,334.6 C166.95,333.02 167.13,331.32 167.6,330 C168.07,328.68 168.7,327.65 169.5,326.7 C170.3,325.75 171.47,325.02 172.4,324.3 C173.33,323.58 174.15,322.88 175.1,322.4 C176.05,321.92 177.08,321.32 178.1,321.4Z" fill="none" stroke="#2a2a2a" stroke-width="2.7" filter="url(#b05)"/>
<ellipse cx="169.2" cy="359" rx="5.6" ry="8.2" fill="#c2c2c2" filter="url(#b1)" transform="rotate(12 168.9 358.2)"/>
<path d="M165.1,354.1 C165.47,352.93 167.63,353.33 168.9,353.3 C170.17,353.27 172.23,352.83 172.7,353.9 C173.17,354.97 172.25,357.77 171.7,359.7 C171.15,361.63 170.23,365.4 169.4,365.5 C168.57,365.6 167.42,362.2 166.7,360.3 C165.98,358.4 164.73,355.27 165.1,354.1Z" fill="#aeaeae" stroke="#e2e2e2" stroke-width="1.3" filter="url(#b05)"/>
<ellipse cx="168.4" cy="357.7" rx="1.5" ry="2.5" fill="#454545" filter="url(#b05)" transform="rotate(10 168.4 357.7)"/>
</g></g>
<polygon points="154,319.8 184.7,319.8 184.7,345 154,353.6" fill="none" stroke="#626262" stroke-width="0.7"/>
<text x="140.8" y="341.5" font-size="11" text-anchor="middle" font-weight="normal" fill="#1c1c1c" >28</text>
<text x="53.5" y="227.8" font-size="11.4" text-anchor="end" font-weight="normal" fill="#1c1c1c" >Empty</text>
<text x="58" y="242" font-size="11.4" text-anchor="end" font-weight="normal" fill="#1c1c1c" >vector</text>
<text x="55" y="288" font-size="11.4" text-anchor="end" font-weight="normal" fill="#1c1c1c" >WT</text>
<text x="58" y="301.3" font-size="11.4" text-anchor="end" font-weight="normal" fill="#1c1c1c" >RAR&#945;</text>
<text x="55" y="348.2" font-size="11.4" text-anchor="end" font-weight="normal" fill="#1c1c1c" >&#916;LB</text>
<text x="58" y="362" font-size="11.4" text-anchor="end" font-weight="normal" fill="#1c1c1c" >RAR&#945;</text>
<text x="67.3" y="389.4" font-size="11.3" text-anchor="start" font-weight="normal" fill="#1c1c1c" >CD4</text>
<line x1="95.5" y1="384.6" x2="177.6" y2="384.6" stroke="#111" stroke-width="1.2" stroke-linecap="butt"/>
<polyline points="172.2,380.5 177.6,384.6 172.2,388.7" fill="none" stroke="#111" stroke-width="1.2"/>
<line x1="193.7" y1="331.6" x2="193.7" y2="212.6" stroke="#111" stroke-width="1.2" stroke-linecap="butt"/>
<polyline points="189.6,218 193.7,212.6 197.8,218" fill="none" stroke="#111" stroke-width="1.2"/>
<text x="199.4" y="357.6" font-size="11.5" text-anchor="middle" font-weight="normal" fill="#1c1c1c" transform="rotate(-90 199.4 357.6)" >IL-17A</text>
<text x="226" y="178.4" font-size="13" text-anchor="start" font-weight="bold" fill="#000" >e</text>
<text x="329.4" y="182.2" font-size="11.3" text-anchor="middle" font-weight="normal" fill="#1c1c1c" >RA</text>
<text x="296.4" y="192.5" font-size="11.3" text-anchor="middle" font-weight="normal" fill="#1c1c1c" >0 nM</text>
<text x="359" y="192.5" font-size="11.3" text-anchor="middle" font-weight="normal" fill="#1c1c1c" >10 nM</text>
<polyline points="271,196.5 326.9,196.5 326.9,252.1" fill="none" stroke="#a6a6a6" stroke-width="0.9"/>
<polyline points="271,196.5 271,252.1 326.9,252.1" fill="none" stroke="#bcbcbc" stroke-width="0.8"/>
<line x1="269.2" y1="207.06" x2="271" y2="207.06" stroke="#777" stroke-width="0.8" stroke-linecap="butt"/>
<line x1="269.2" y1="221.52" x2="271" y2="221.52" stroke="#777" stroke-width="0.8" stroke-linecap="butt"/>
<line x1="269.2" y1="237.09" x2="271" y2="237.09" stroke="#777" stroke-width="0.8" stroke-linecap="butt"/>
<line x1="277.71" y1="252.1" x2="277.71" y2="253.7" stroke="#777" stroke-width="0.8" stroke-linecap="butt"/>
<line x1="291.12" y1="252.1" x2="291.12" y2="253.7" stroke="#777" stroke-width="0.8" stroke-linecap="butt"/>
<line x1="305.66" y1="252.1" x2="305.66" y2="253.7" stroke="#777" stroke-width="0.8" stroke-linecap="butt"/>
<line x1="317.96" y1="252.1" x2="317.96" y2="253.7" stroke="#777" stroke-width="0.8" stroke-linecap="butt"/>
<line x1="270.2" y1="198.5" x2="270.2" y2="251.1" stroke="#aaa" stroke-width="0.7" stroke-dasharray="0.7 1.1"/>
<line x1="273" y1="252.8" x2="325.9" y2="252.8" stroke="#aaa" stroke-width="0.7" stroke-dasharray="0.7 1.1"/>
<clipPath id="ce0"><path d="M297.49,203.89 L299.03,203.38 L300.9,202.66 L302.9,201.96 L304.71,202.47 L306.12,201.54 L307.61,200.76 L309.37,199.95 L311.18,200.93 L313.41,200.02 L315.35,200.21 L316.77,201.41 L317.56,202.61 L317.05,204.18 L316.55,205.93 L315.49,207.51 L316.2,209.13 L315.71,210.57 L316.24,212.18 L315.71,213.8 L315.07,215.47 L313.51,216.98 L313.96,219.14 L313.56,220.67 L313.2,222.29 L313.05,223.85 L313.17,225.35 L313.99,226.69 L313.69,228.71 L314.7,230.38 L314.56,232.16 L314.57,234.09 L314.2,236 L313.46,237.95 L312.46,239.51 L310.5,240.21 L309.39,241.82 L307.58,242.18 L305.95,243.36 L304.71,242.71 L303.56,241.88 L301.88,241.01 L301.91,238.89 L300,237.66 L299,235.66 L297.11,234.35 L295.4,232.8 L296.96,231.46 L298.2,229.45 L299.02,227.89 L299.22,225.91 L299.46,224.82 L299.64,222.87 L298.33,221.49 L296.92,219.94 L296.95,218.45 L297.37,216.78 L296.74,215.22 L297.14,213.7 L296.68,211.78 L296.03,209.95 L296.39,208.24 L297.12,206.27Z"/></clipPath>
<g filter="url(#soft)">
<path d="M297.49,203.89 L299.03,203.38 L300.9,202.66 L302.9,201.96 L304.71,202.47 L306.12,201.54 L307.61,200.76 L309.37,199.95 L311.18,200.93 L313.41,200.02 L315.35,200.21 L316.77,201.41 L317.56,202.61 L317.05,204.18 L316.55,205.93 L315.49,207.51 L316.2,209.13 L315.71,210.57 L316.24,212.18 L315.71,213.8 L315.07,215.47 L313.51,216.98 L313.96,219.14 L313.56,220.67 L313.2,222.29 L313.05,223.85 L313.17,225.35 L313.99,226.69 L313.69,228.71 L314.7,230.38 L314.56,232.16 L314.57,234.09 L314.2,236 L313.46,237.95 L312.46,239.51 L310.5,240.21 L309.39,241.82 L307.58,242.18 L305.95,243.36 L304.71,242.71 L303.56,241.88 L301.88,241.01 L301.91,238.89 L300,237.66 L299,235.66 L297.11,234.35 L295.4,232.8 L296.96,231.46 L298.2,229.45 L299.02,227.89 L299.22,225.91 L299.46,224.82 L299.64,222.87 L298.33,221.49 L296.92,219.94 L296.95,218.45 L297.37,216.78 L296.74,215.22 L297.14,213.7 L296.68,211.78 L296.03,209.95 L296.39,208.24 L297.12,206.27Z" fill="#a2a2a2"/>
<g clip-path="url(#ce0)">
<path d="M297.49,203.89 L299.03,203.38 L300.9,202.66 L302.9,201.96 L304.71,202.47 L306.12,201.54 L307.61,200.76 L309.37,199.95 L311.18,200.93 L313.41,200.02 L315.35,200.21 L316.77,201.41 L317.56,202.61 L317.05,204.18 L316.55,205.93 L315.49,207.51 L316.2,209.13 L315.71,210.57 L316.24,212.18 L315.71,213.8 L315.07,215.47 L313.51,216.98 L313.96,219.14 L313.56,220.67 L313.2,222.29 L313.05,223.85 L313.17,225.35 L313.99,226.69 L313.69,228.71 L314.7,230.38 L314.56,232.16 L314.57,234.09 L314.2,236 L313.46,237.95 L312.46,239.51 L310.5,240.21 L309.39,241.82 L307.58,242.18 L305.95,243.36 L304.71,242.71 L303.56,241.88 L301.88,241.01 L301.91,238.89 L300,237.66 L299,235.66 L297.11,234.35 L295.4,232.8 L296.96,231.46 L298.2,229.45 L299.02,227.89 L299.22,225.91 L299.46,224.82 L299.64,222.87 L298.33,221.49 L296.92,219.94 L296.95,218.45 L297.37,216.78 L296.74,215.22 L297.14,213.7 L296.68,211.78 L296.03,209.95 L296.39,208.24 L297.12,206.27Z" fill="none" stroke="#464646" stroke-width="5.5" filter="url(#b2)"/>
<ellipse cx="306.5" cy="230.5" rx="3.4" ry="9" fill="#b4b4b4" filter="url(#b1)"/>
<ellipse cx="306.9" cy="212.5" rx="7.4" ry="11" fill="#c2c2c2" filter="url(#b1)"/>
<path d="M297.49,203.89 L299.03,203.38 L300.9,202.66 L302.9,201.96 L304.71,202.47 L306.12,201.54 L307.61,200.76 L309.37,199.95 L311.18,200.93 L313.41,200.02 L315.35,200.21 L316.77,201.41 L317.56,202.61 L317.05,204.18 L316.55,205.93 L315.49,207.51 L316.2,209.13 L315.71,210.57 L316.24,212.18 L315.71,213.8 L315.07,215.47 L313.51,216.98 L313.96,219.14 L313.56,220.67 L313.2,222.29 L313.05,223.85 L313.17,225.35 L313.99,226.69 L313.69,228.71 L314.7,230.38 L314.56,232.16 L314.57,234.09 L314.2,236 L313.46,237.95 L312.46,239.51 L310.5,240.21 L309.39,241.82 L307.58,242.18 L305.95,243.36 L304.71,242.71 L303.56,241.88 L301.88,241.01 L301.91,238.89 L300,237.66 L299,235.66 L297.11,234.35 L295.4,232.8 L296.96,231.46 L298.2,229.45 L299.02,227.89 L299.22,225.91 L299.46,224.82 L299.64,222.87 L298.33,221.49 L296.92,219.94 L296.95,218.45 L297.37,216.78 L296.74,215.22 L297.14,213.7 L296.68,211.78 L296.03,209.95 L296.39,208.24 L297.12,206.27Z" fill="none" stroke="#2a2a2a" stroke-width="3.6" filter="url(#b08)"/>
<ellipse cx="306.6" cy="210.7" rx="3.35" ry="5.02" fill="#bcbcbc" stroke="#ececec" stroke-width="1.25" filter="url(#b05)"/>
<ellipse cx="306.6" cy="209.9" rx="1.4" ry="2.5" fill="#3a3a3a" filter="url(#b05)" transform="rotate(12 306.6 209.9)"/>
</g></g>
<ellipse cx="304.8" cy="251.7" rx="1.6" ry="0.6" fill="#222"/>
<polygon points="293.7,197.5 326,197.5 326,216.5 293.7,225.7" fill="none" stroke="#626262" stroke-width="0.7"/>
<text x="283.6" y="217.9" font-size="11" text-anchor="middle" font-weight="normal" fill="#1c1c1c" >79</text>
<polyline points="334.3,196.5 390.2,196.5 390.2,252.1" fill="none" stroke="#a6a6a6" stroke-width="0.9"/>
<polyline points="334.3,196.5 334.3,252.1 390.2,252.1" fill="none" stroke="#bcbcbc" stroke-width="0.8"/>
<line x1="332.5" y1="207.06" x2="334.3" y2="207.06" stroke="#777" stroke-width="0.8" stroke-linecap="butt"/>
<line x1="332.5" y1="221.52" x2="334.3" y2="221.52" stroke="#777" stroke-width="0.8" stroke-linecap="butt"/>
<line x1="332.5" y1="237.09" x2="334.3" y2="237.09" stroke="#777" stroke-width="0.8" stroke-linecap="butt"/>
<line x1="341.01" y1="252.1" x2="341.01" y2="253.7" stroke="#777" stroke-width="0.8" stroke-linecap="butt"/>
<line x1="354.42" y1="252.1" x2="354.42" y2="253.7" stroke="#777" stroke-width="0.8" stroke-linecap="butt"/>
<line x1="368.96" y1="252.1" x2="368.96" y2="253.7" stroke="#777" stroke-width="0.8" stroke-linecap="butt"/>
<line x1="381.26" y1="252.1" x2="381.26" y2="253.7" stroke="#777" stroke-width="0.8" stroke-linecap="butt"/>
<line x1="333.5" y1="198.5" x2="333.5" y2="251.1" stroke="#aaa" stroke-width="0.7" stroke-dasharray="0.7 1.1"/>
<line x1="336.3" y1="252.8" x2="389.2" y2="252.8" stroke="#aaa" stroke-width="0.7" stroke-dasharray="0.7 1.1"/>
<clipPath id="ce1"><path d="M377.87,200.73 L376.39,200.86 L374.76,202.23 L372.71,202.63 L370.93,203.22 L370.18,204.52 L369.23,205.9 L367.51,206.73 L367.19,208.45 L365.98,209.23 L364.57,210.34 L364.79,212.39 L364.36,213.79 L365.54,215.41 L364.6,217.47 L365.88,219.32 L365.1,221.25 L365.81,222.7 L365.48,224.91 L366.21,226.34 L366.83,227.79 L367.78,229.43 L368.32,231.15 L367.38,232.73 L366.81,234.98 L366.51,236.83 L367.06,238.99 L367.65,241.11 L369.3,243.09 L371.08,242.92 L372.96,242.16 L375.49,240.21 L374.91,238.59 L376.68,237.64 L377.02,235.92 L378.08,234.54 L377.54,232.71 L378.2,230.98 L379.31,229.7 L379.65,227.8 L380.31,226.42 L379.94,224.86 L379.51,223.16 L379.83,221.34 L380.79,219.44 L380.77,217.5 L380.35,215.92 L379.8,214.16 L379.57,212.3 L380.63,210.42 L379.57,208.6 L379.79,206.92 L380.24,205.46 L379.61,204.39 L379.58,201.77Z"/></clipPath>
<g filter="url(#soft)">
<path d="M377.87,200.73 L376.39,200.86 L374.76,202.23 L372.71,202.63 L370.93,203.22 L370.18,204.52 L369.23,205.9 L367.51,206.73 L367.19,208.45 L365.98,209.23 L364.57,210.34 L364.79,212.39 L364.36,213.79 L365.54,215.41 L364.6,217.47 L365.88,219.32 L365.1,221.25 L365.81,222.7 L365.48,224.91 L366.21,226.34 L366.83,227.79 L367.78,229.43 L368.32,231.15 L367.38,232.73 L366.81,234.98 L366.51,236.83 L367.06,238.99 L367.65,241.11 L369.3,243.09 L371.08,242.92 L372.96,242.16 L375.49,240.21 L374.91,238.59 L376.68,237.64 L377.02,235.92 L378.08,234.54 L377.54,232.71 L378.2,230.98 L379.31,229.7 L379.65,227.8 L380.31,226.42 L379.94,224.86 L379.51,223.16 L379.83,221.34 L380.79,219.44 L380.77,217.5 L380.35,215.92 L379.8,214.16 L379.57,212.3 L380.63,210.42 L379.57,208.6 L379.79,206.92 L380.24,205.46 L379.61,204.39 L379.58,201.77Z" fill="#a2a2a2"/>
<g clip-path="url(#ce1)">
<path d="M377.87,200.73 L376.39,200.86 L374.76,202.23 L372.71,202.63 L370.93,203.22 L370.18,204.52 L369.23,205.9 L367.51,206.73 L367.19,208.45 L365.98,209.23 L364.57,210.34 L364.79,212.39 L364.36,213.79 L365.54,215.41 L364.6,217.47 L365.88,219.32 L365.1,221.25 L365.81,222.7 L365.48,224.91 L366.21,226.34 L366.83,227.79 L367.78,229.43 L368.32,231.15 L367.38,232.73 L366.81,234.98 L366.51,236.83 L367.06,238.99 L367.65,241.11 L369.3,243.09 L371.08,242.92 L372.96,242.16 L375.49,240.21 L374.91,238.59 L376.68,237.64 L377.02,235.92 L378.08,234.54 L377.54,232.71 L378.2,230.98 L379.31,229.7 L379.65,227.8 L380.31,226.42 L379.94,224.86 L379.51,223.16 L379.83,221.34 L380.79,219.44 L380.77,217.5 L380.35,215.92 L379.8,214.16 L379.57,212.3 L380.63,210.42 L379.57,208.6 L379.79,206.92 L380.24,205.46 L379.61,204.39 L379.58,201.77Z" fill="none" stroke="#464646" stroke-width="5.5" filter="url(#b2)"/>
<ellipse cx="372.9" cy="228.5" rx="3" ry="9" fill="#b4b4b4" filter="url(#b1)"/>
<ellipse cx="373.2" cy="213.3" rx="6.4" ry="10.4" fill="#c2c2c2" filter="url(#b1)"/>
<path d="M377.87,200.73 L376.39,200.86 L374.76,202.23 L372.71,202.63 L370.93,203.22 L370.18,204.52 L369.23,205.9 L367.51,206.73 L367.19,208.45 L365.98,209.23 L364.57,210.34 L364.79,212.39 L364.36,213.79 L365.54,215.41 L364.6,217.47 L365.88,219.32 L365.1,221.25 L365.81,222.7 L365.48,224.91 L366.21,226.34 L366.83,227.79 L367.78,229.43 L368.32,231.15 L367.38,232.73 L366.81,234.98 L366.51,236.83 L367.06,238.99 L367.65,241.11 L369.3,243.09 L371.08,242.92 L372.96,242.16 L375.49,240.21 L374.91,238.59 L376.68,237.64 L377.02,235.92 L378.08,234.54 L377.54,232.71 L378.2,230.98 L379.31,229.7 L379.65,227.8 L380.31,226.42 L379.94,224.86 L379.51,223.16 L379.83,221.34 L380.79,219.44 L380.77,217.5 L380.35,215.92 L379.8,214.16 L379.57,212.3 L380.63,210.42 L379.57,208.6 L379.79,206.92 L380.24,205.46 L379.61,204.39 L379.58,201.77Z" fill="none" stroke="#2a2a2a" stroke-width="3.6" filter="url(#b08)"/>
<ellipse cx="372.9" cy="211.5" rx="2.73" ry="4.62" fill="#bcbcbc" stroke="#ececec" stroke-width="1.25" filter="url(#b05)"/>
<ellipse cx="372.9" cy="210.9" rx="1.4" ry="2.5" fill="#3a3a3a" filter="url(#b05)" transform="rotate(12 372.9 210.9)"/>
</g></g>
<ellipse cx="363.7" cy="233.1" rx="1.7" ry="1.1" fill="#222"/>
<ellipse cx="366.8" cy="245.1" rx="1.2" ry="2.2" fill="#222"/>
<ellipse cx="376.3" cy="251.5" rx="6.5" ry="0.8" fill="#222"/>
<ellipse cx="374.1" cy="249.3" rx="0.7" ry="1.6" fill="#222"/>
<polygon points="357,197.5 388.7,197.5 388.7,216.5 357,225.7" fill="none" stroke="#626262" stroke-width="0.7"/>
<text x="344.5" y="217.9" font-size="11" text-anchor="middle" font-weight="normal" fill="#1c1c1c" >79</text>
<polyline points="271,257 326.9,257 326.9,312.6" fill="none" stroke="#a6a6a6" stroke-width="0.9"/>
<polyline points="271,257 271,312.6 326.9,312.6" fill="none" stroke="#bcbcbc" stroke-width="0.8"/>
<line x1="269.2" y1="267.56" x2="271" y2="267.56" stroke="#777" stroke-width="0.8" stroke-linecap="butt"/>
<line x1="269.2" y1="282.02" x2="271" y2="282.02" stroke="#777" stroke-width="0.8" stroke-linecap="butt"/>
<line x1="269.2" y1="297.59" x2="271" y2="297.59" stroke="#777" stroke-width="0.8" stroke-linecap="butt"/>
<line x1="277.71" y1="312.6" x2="277.71" y2="314.2" stroke="#777" stroke-width="0.8" stroke-linecap="butt"/>
<line x1="291.12" y1="312.6" x2="291.12" y2="314.2" stroke="#777" stroke-width="0.8" stroke-linecap="butt"/>
<line x1="305.66" y1="312.6" x2="305.66" y2="314.2" stroke="#777" stroke-width="0.8" stroke-linecap="butt"/>
<line x1="317.96" y1="312.6" x2="317.96" y2="314.2" stroke="#777" stroke-width="0.8" stroke-linecap="butt"/>
<line x1="270.2" y1="259" x2="270.2" y2="311.6" stroke="#aaa" stroke-width="0.7" stroke-dasharray="0.7 1.1"/>
<line x1="273" y1="313.3" x2="325.9" y2="313.3" stroke="#aaa" stroke-width="0.7" stroke-dasharray="0.7 1.1"/>
<clipPath id="ce2"><path d="M303.03,262.08 L304.33,261.58 L305.82,261.07 L307.04,260.09 L308.19,258.99 L309.78,259.74 L311.33,259.52 L312.97,259.02 L314.93,258.93 L316.92,259.25 L318.71,259.37 L319.44,259.87 L320.12,261.13 L319.8,262.79 L319.48,264.49 L319.37,266.11 L319.83,267.84 L319.28,269.5 L318.99,271.1 L317.43,272.27 L317.86,274.12 L317.04,275.65 L316.7,277.34 L316.18,278.91 L316.15,280.49 L315.3,281.91 L315.99,283.53 L315.07,285.1 L314.59,286.73 L314.95,288.36 L315.4,290.02 L315.29,291.56 L314,292.91 L314.06,294.61 L313.67,296.23 L313.45,297.85 L312.46,299.93 L311.67,301.8 L311.13,303.93 L309.83,305.47 L309.08,304.24 L308.17,302.88 L307.21,301.64 L305.39,300.96 L304.08,299.76 L304.04,297.68 L303,296.36 L302.08,294.97 L301.56,293.08 L300.91,291.01 L301.32,289.53 L301.01,288.02 L301.31,286.48 L300.47,285.05 L301.24,283.51 L300.74,282 L301.05,280.36 L299.95,278.7 L300.99,276.97 L300.76,275.29 L299.68,273.68 L300.11,272 L300.2,270.42 L299.7,268.92 L299.43,267.37 L300.33,265.62 L300.91,264.11 L301.76,262.91Z"/></clipPath>
<g filter="url(#soft)">
<path d="M303.03,262.08 L304.33,261.58 L305.82,261.07 L307.04,260.09 L308.19,258.99 L309.78,259.74 L311.33,259.52 L312.97,259.02 L314.93,258.93 L316.92,259.25 L318.71,259.37 L319.44,259.87 L320.12,261.13 L319.8,262.79 L319.48,264.49 L319.37,266.11 L319.83,267.84 L319.28,269.5 L318.99,271.1 L317.43,272.27 L317.86,274.12 L317.04,275.65 L316.7,277.34 L316.18,278.91 L316.15,280.49 L315.3,281.91 L315.99,283.53 L315.07,285.1 L314.59,286.73 L314.95,288.36 L315.4,290.02 L315.29,291.56 L314,292.91 L314.06,294.61 L313.67,296.23 L313.45,297.85 L312.46,299.93 L311.67,301.8 L311.13,303.93 L309.83,305.47 L309.08,304.24 L308.17,302.88 L307.21,301.64 L305.39,300.96 L304.08,299.76 L304.04,297.68 L303,296.36 L302.08,294.97 L301.56,293.08 L300.91,291.01 L301.32,289.53 L301.01,288.02 L301.31,286.48 L300.47,285.05 L301.24,283.51 L300.74,282 L301.05,280.36 L299.95,278.7 L300.99,276.97 L300.76,275.29 L299.68,273.68 L300.11,272 L300.2,270.42 L299.7,268.92 L299.43,267.37 L300.33,265.62 L300.91,264.11 L301.76,262.91Z" fill="#a2a2a2"/>
<g clip-path="url(#ce2)">
<path d="M303.03,262.08 L304.33,261.58 L305.82,261.07 L307.04,260.09 L308.19,258.99 L309.78,259.74 L311.33,259.52 L312.97,259.02 L314.93,258.93 L316.92,259.25 L318.71,259.37 L319.44,259.87 L320.12,261.13 L319.8,262.79 L319.48,264.49 L319.37,266.11 L319.83,267.84 L319.28,269.5 L318.99,271.1 L317.43,272.27 L317.86,274.12 L317.04,275.65 L316.7,277.34 L316.18,278.91 L316.15,280.49 L315.3,281.91 L315.99,283.53 L315.07,285.1 L314.59,286.73 L314.95,288.36 L315.4,290.02 L315.29,291.56 L314,292.91 L314.06,294.61 L313.67,296.23 L313.45,297.85 L312.46,299.93 L311.67,301.8 L311.13,303.93 L309.83,305.47 L309.08,304.24 L308.17,302.88 L307.21,301.64 L305.39,300.96 L304.08,299.76 L304.04,297.68 L303,296.36 L302.08,294.97 L301.56,293.08 L300.91,291.01 L301.32,289.53 L301.01,288.02 L301.31,286.48 L300.47,285.05 L301.24,283.51 L300.74,282 L301.05,280.36 L299.95,278.7 L300.99,276.97 L300.76,275.29 L299.68,273.68 L300.11,272 L300.2,270.42 L299.7,268.92 L299.43,267.37 L300.33,265.62 L300.91,264.11 L301.76,262.91Z" fill="none" stroke="#464646" stroke-width="5.5" filter="url(#b2)"/>
<ellipse cx="308.2" cy="289.3" rx="3.4" ry="9" fill="#b4b4b4" filter="url(#b1)"/>
<ellipse cx="309.5" cy="271" rx="7.4" ry="10.4" fill="#c2c2c2" filter="url(#b1)"/>
<path d="M303.03,262.08 L304.33,261.58 L305.82,261.07 L307.04,260.09 L308.19,258.99 L309.78,259.74 L311.33,259.52 L312.97,259.02 L314.93,258.93 L316.92,259.25 L318.71,259.37 L319.44,259.87 L320.12,261.13 L319.8,262.79 L319.48,264.49 L319.37,266.11 L319.83,267.84 L319.28,269.5 L318.99,271.1 L317.43,272.27 L317.86,274.12 L317.04,275.65 L316.7,277.34 L316.18,278.91 L316.15,280.49 L315.3,281.91 L315.99,283.53 L315.07,285.1 L314.59,286.73 L314.95,288.36 L315.4,290.02 L315.29,291.56 L314,292.91 L314.06,294.61 L313.67,296.23 L313.45,297.85 L312.46,299.93 L311.67,301.8 L311.13,303.93 L309.83,305.47 L309.08,304.24 L308.17,302.88 L307.21,301.64 L305.39,300.96 L304.08,299.76 L304.04,297.68 L303,296.36 L302.08,294.97 L301.56,293.08 L300.91,291.01 L301.32,289.53 L301.01,288.02 L301.31,286.48 L300.47,285.05 L301.24,283.51 L300.74,282 L301.05,280.36 L299.95,278.7 L300.99,276.97 L300.76,275.29 L299.68,273.68 L300.11,272 L300.2,270.42 L299.7,268.92 L299.43,267.37 L300.33,265.62 L300.91,264.11 L301.76,262.91Z" fill="none" stroke="#2a2a2a" stroke-width="3.6" filter="url(#b08)"/>
<ellipse cx="309.2" cy="269.2" rx="3.35" ry="4.62" fill="#bcbcbc" stroke="#ececec" stroke-width="1.25" filter="url(#b05)"/>
<ellipse cx="309.5" cy="268.4" rx="1.4" ry="2.5" fill="#3a3a3a" filter="url(#b05)" transform="rotate(12 309.5 268.4)"/>
</g></g>
<ellipse cx="304.7" cy="311.8" rx="1.6" ry="0.9" fill="#222"/>
<ellipse cx="310.1" cy="311.2" rx="1.3" ry="1.3" fill="#222"/>
<polygon points="293.7,258 326,258 326,277 293.7,286.2" fill="none" stroke="#626262" stroke-width="0.7"/>
<text x="283.6" y="280.6" font-size="11" text-anchor="middle" font-weight="normal" fill="#1c1c1c" >69</text>
<polyline points="334.3,257 390.2,257 390.2,312.6" fill="none" stroke="#a6a6a6" stroke-width="0.9"/>
<polyline points="334.3,257 334.3,312.6 390.2,312.6" fill="none" stroke="#bcbcbc" stroke-width="0.8"/>
<line x1="332.5" y1="267.56" x2="334.3" y2="267.56" stroke="#777" stroke-width="0.8" stroke-linecap="butt"/>
<line x1="332.5" y1="282.02" x2="334.3" y2="282.02" stroke="#777" stroke-width="0.8" stroke-linecap="butt"/>
<line x1="332.5" y1="297.59" x2="334.3" y2="297.59" stroke="#777" stroke-width="0.8" stroke-linecap="butt"/>
<line x1="341.01" y1="312.6" x2="341.01" y2="314.2" stroke="#777" stroke-width="0.8" stroke-linecap="butt"/>
<line x1="354.42" y1="312.6" x2="354.42" y2="314.2" stroke="#777" stroke-width="0.8" stroke-linecap="butt"/>
<line x1="368.96" y1="312.6" x2="368.96" y2="314.2" stroke="#777" stroke-width="0.8" stroke-linecap="butt"/>
<line x1="381.26" y1="312.6" x2="381.26" y2="314.2" stroke="#777" stroke-width="0.8" stroke-linecap="butt"/>
<line x1="333.5" y1="259" x2="333.5" y2="311.6" stroke="#aaa" stroke-width="0.7" stroke-dasharray="0.7 1.1"/>
<line x1="336.3" y1="313.3" x2="389.2" y2="313.3" stroke="#aaa" stroke-width="0.7" stroke-dasharray="0.7 1.1"/>
<clipPath id="ce3"><path d="M368.93,266.71 L371.12,265.84 L373.55,265.93 L375,267.63 L376.56,268.49 L377.36,269.8 L377.33,271.62 L377.99,273.41 L379.01,275.18 L377.82,277.09 L377.75,279.07 L377.06,280.94 L377.77,282.9 L376.48,284.6 L376.67,286.47 L377.13,288.35 L376.59,290.14 L377.2,292.06 L376.65,294 L375.83,295.94 L376.26,297.87 L375.76,300.12 L374.3,301.75 L373.61,303.49 L373.24,305.34 L372.84,307.34 L372.42,309.59 L374.03,310.9 L377.03,310.95 L377,312.77 L376.06,313.01 L374.52,312.96 L372.56,312.65 L370.4,312.8 L368.23,313.01 L366.26,311.94 L364.68,312.78 L363.98,312.53 L363.51,311.1 L366.03,310.65 L367.15,309.22 L366.95,307.24 L365.83,305.26 L364.33,303.87 L363.7,301.92 L362.6,300.82 L362.88,299.1 L361.4,297.83 L362.28,295.92 L361.27,293.98 L361.84,291.98 L360.65,290.17 L360.92,288.33 L360.97,286.51 L361.73,284.65 L361.46,282.84 L361,281 L361.5,278.96 L361.42,276.88 L360.49,275.03 L360.79,273.16 L361.16,271.41 L362.67,270.63 L363.26,268.93 L365.3,268.72 L366.05,267.08 L367.27,266.05Z"/></clipPath>
<g filter="url(#soft)">
<path d="M368.93,266.71 L371.12,265.84 L373.55,265.93 L375,267.63 L376.56,268.49 L377.36,269.8 L377.33,271.62 L377.99,273.41 L379.01,275.18 L377.82,277.09 L377.75,279.07 L377.06,280.94 L377.77,282.9 L376.48,284.6 L376.67,286.47 L377.13,288.35 L376.59,290.14 L377.2,292.06 L376.65,294 L375.83,295.94 L376.26,297.87 L375.76,300.12 L374.3,301.75 L373.61,303.49 L373.24,305.34 L372.84,307.34 L372.42,309.59 L374.03,310.9 L377.03,310.95 L377,312.77 L376.06,313.01 L374.52,312.96 L372.56,312.65 L370.4,312.8 L368.23,313.01 L366.26,311.94 L364.68,312.78 L363.98,312.53 L363.51,311.1 L366.03,310.65 L367.15,309.22 L366.95,307.24 L365.83,305.26 L364.33,303.87 L363.7,301.92 L362.6,300.82 L362.88,299.1 L361.4,297.83 L362.28,295.92 L361.27,293.98 L361.84,291.98 L360.65,290.17 L360.92,288.33 L360.97,286.51 L361.73,284.65 L361.46,282.84 L361,281 L361.5,278.96 L361.42,276.88 L360.49,275.03 L360.79,273.16 L361.16,271.41 L362.67,270.63 L363.26,268.93 L365.3,268.72 L366.05,267.08 L367.27,266.05Z" fill="#a2a2a2"/>
<g clip-path="url(#ce3)">
<path d="M368.93,266.71 L371.12,265.84 L373.55,265.93 L375,267.63 L376.56,268.49 L377.36,269.8 L377.33,271.62 L377.99,273.41 L379.01,275.18 L377.82,277.09 L377.75,279.07 L377.06,280.94 L377.77,282.9 L376.48,284.6 L376.67,286.47 L377.13,288.35 L376.59,290.14 L377.2,292.06 L376.65,294 L375.83,295.94 L376.26,297.87 L375.76,300.12 L374.3,301.75 L373.61,303.49 L373.24,305.34 L372.84,307.34 L372.42,309.59 L374.03,310.9 L377.03,310.95 L377,312.77 L376.06,313.01 L374.52,312.96 L372.56,312.65 L370.4,312.8 L368.23,313.01 L366.26,311.94 L364.68,312.78 L363.98,312.53 L363.51,311.1 L366.03,310.65 L367.15,309.22 L366.95,307.24 L365.83,305.26 L364.33,303.87 L363.7,301.92 L362.6,300.82 L362.88,299.1 L361.4,297.83 L362.28,295.92 L361.27,293.98 L361.84,291.98 L360.65,290.17 L360.92,288.33 L360.97,286.51 L361.73,284.65 L361.46,282.84 L361,281 L361.5,278.96 L361.42,276.88 L360.49,275.03 L360.79,273.16 L361.16,271.41 L362.67,270.63 L363.26,268.93 L365.3,268.72 L366.05,267.08 L367.27,266.05Z" fill="none" stroke="#464646" stroke-width="5.5" filter="url(#b2)"/>
<ellipse cx="369.3" cy="294" rx="3" ry="10" fill="#b4b4b4" filter="url(#b1)"/>
<ellipse cx="369.5" cy="278.4" rx="6" ry="10.8" fill="#c2c2c2" filter="url(#b1)"/>
<path d="M368.93,266.71 L371.12,265.84 L373.55,265.93 L375,267.63 L376.56,268.49 L377.36,269.8 L377.33,271.62 L377.99,273.41 L379.01,275.18 L377.82,277.09 L377.75,279.07 L377.06,280.94 L377.77,282.9 L376.48,284.6 L376.67,286.47 L377.13,288.35 L376.59,290.14 L377.2,292.06 L376.65,294 L375.83,295.94 L376.26,297.87 L375.76,300.12 L374.3,301.75 L373.61,303.49 L373.24,305.34 L372.84,307.34 L372.42,309.59 L374.03,310.9 L377.03,310.95 L377,312.77 L376.06,313.01 L374.52,312.96 L372.56,312.65 L370.4,312.8 L368.23,313.01 L366.26,311.94 L364.68,312.78 L363.98,312.53 L363.51,311.1 L366.03,310.65 L367.15,309.22 L366.95,307.24 L365.83,305.26 L364.33,303.87 L363.7,301.92 L362.6,300.82 L362.88,299.1 L361.4,297.83 L362.28,295.92 L361.27,293.98 L361.84,291.98 L360.65,290.17 L360.92,288.33 L360.97,286.51 L361.73,284.65 L361.46,282.84 L361,281 L361.5,278.96 L361.42,276.88 L360.49,275.03 L360.79,273.16 L361.16,271.41 L362.67,270.63 L363.26,268.93 L365.3,268.72 L366.05,267.08 L367.27,266.05Z" fill="none" stroke="#2a2a2a" stroke-width="3.6" filter="url(#b08)"/>
<ellipse cx="369.2" cy="276.6" rx="2.48" ry="4.88" fill="#bcbcbc" stroke="#ececec" stroke-width="1.25" filter="url(#b05)"/>
<ellipse cx="369" cy="276" rx="1.4" ry="2.5" fill="#3a3a3a" filter="url(#b05)" transform="rotate(12 369 276)"/>
</g></g>
<polygon points="357,258 388.7,258 388.7,277 357,286.2" fill="none" stroke="#626262" stroke-width="0.7"/>
<text x="344.5" y="280.6" font-size="11" text-anchor="middle" font-weight="normal" fill="#1c1c1c" >56</text>
<polyline points="271,318.3 326.9,318.3 326.9,373.9" fill="none" stroke="#a6a6a6" stroke-width="0.9"/>
<polyline points="271,318.3 271,373.9 326.9,373.9" fill="none" stroke="#bcbcbc" stroke-width="0.8"/>
<line x1="269.2" y1="328.86" x2="271" y2="328.86" stroke="#777" stroke-width="0.8" stroke-linecap="butt"/>
<line x1="269.2" y1="343.32" x2="271" y2="343.32" stroke="#777" stroke-width="0.8" stroke-linecap="butt"/>
<line x1="269.2" y1="358.89" x2="271" y2="358.89" stroke="#777" stroke-width="0.8" stroke-linecap="butt"/>
<line x1="277.71" y1="373.9" x2="277.71" y2="375.5" stroke="#777" stroke-width="0.8" stroke-linecap="butt"/>
<line x1="291.12" y1="373.9" x2="291.12" y2="375.5" stroke="#777" stroke-width="0.8" stroke-linecap="butt"/>
<line x1="305.66" y1="373.9" x2="305.66" y2="375.5" stroke="#777" stroke-width="0.8" stroke-linecap="butt"/>
<line x1="317.96" y1="373.9" x2="317.96" y2="375.5" stroke="#777" stroke-width="0.8" stroke-linecap="butt"/>
<line x1="270.2" y1="320.3" x2="270.2" y2="372.9" stroke="#aaa" stroke-width="0.7" stroke-dasharray="0.7 1.1"/>
<line x1="273" y1="374.6" x2="325.9" y2="374.6" stroke="#aaa" stroke-width="0.7" stroke-dasharray="0.7 1.1"/>
<clipPath id="ce4"><path d="M311.09,321.27 L313.25,320.42 L314.49,321.68 L314.88,322.96 L315.51,324.42 L316.18,325.58 L316.28,327.05 L316.03,328.73 L315.88,330.5 L316.01,332.26 L316.04,333.81 L316.27,335.48 L316.2,337.12 L315.27,338.6 L314.51,340.12 L314.37,341.74 L314.1,343.46 L314.2,345.06 L314.99,346.63 L314.94,348.3 L315.38,349.89 L315.45,351.46 L316.06,353.01 L315.84,354.71 L315.2,356.28 L313.92,357.59 L314.11,359.24 L313.49,360.5 L311.94,361.71 L312.02,363.36 L311,364.37 L309.85,366.49 L308.56,368.37 L307.49,366.55 L306.41,364.56 L305.75,362.75 L304.73,360.92 L304.63,359.03 L303.66,358.08 L302.22,356.44 L299.79,356.94 L297.88,355.65 L296.55,354.76 L296.17,352.83 L297.11,351.63 L299.18,349.22 L302.22,348.07 L301.91,346.83 L301.68,345.19 L301.52,343.34 L301.9,341.44 L300.53,340.1 L300.84,338.54 L300.71,336.99 L300.23,335.47 L301.11,333.99 L300.93,332.37 L300.46,330.64 L301.08,329.1 L301.71,327.66 L301.53,325.89 L302.65,324.74 L304.14,323.94 L305.62,323.19 L306.43,321.55 L308.07,320.65 L309.91,320.68Z"/></clipPath>
<g filter="url(#soft)">
<path d="M311.09,321.27 L313.25,320.42 L314.49,321.68 L314.88,322.96 L315.51,324.42 L316.18,325.58 L316.28,327.05 L316.03,328.73 L315.88,330.5 L316.01,332.26 L316.04,333.81 L316.27,335.48 L316.2,337.12 L315.27,338.6 L314.51,340.12 L314.37,341.74 L314.1,343.46 L314.2,345.06 L314.99,346.63 L314.94,348.3 L315.38,349.89 L315.45,351.46 L316.06,353.01 L315.84,354.71 L315.2,356.28 L313.92,357.59 L314.11,359.24 L313.49,360.5 L311.94,361.71 L312.02,363.36 L311,364.37 L309.85,366.49 L308.56,368.37 L307.49,366.55 L306.41,364.56 L305.75,362.75 L304.73,360.92 L304.63,359.03 L303.66,358.08 L302.22,356.44 L299.79,356.94 L297.88,355.65 L296.55,354.76 L296.17,352.83 L297.11,351.63 L299.18,349.22 L302.22,348.07 L301.91,346.83 L301.68,345.19 L301.52,343.34 L301.9,341.44 L300.53,340.1 L300.84,338.54 L300.71,336.99 L300.23,335.47 L301.11,333.99 L300.93,332.37 L300.46,330.64 L301.08,329.1 L301.71,327.66 L301.53,325.89 L302.65,324.74 L304.14,323.94 L305.62,323.19 L306.43,321.55 L308.07,320.65 L309.91,320.68Z" fill="#a2a2a2"/>
<g clip-path="url(#ce4)">
<path d="M311.09,321.27 L313.25,320.42 L314.49,321.68 L314.88,322.96 L315.51,324.42 L316.18,325.58 L316.28,327.05 L316.03,328.73 L315.88,330.5 L316.01,332.26 L316.04,333.81 L316.27,335.48 L316.2,337.12 L315.27,338.6 L314.51,340.12 L314.37,341.74 L314.1,343.46 L314.2,345.06 L314.99,346.63 L314.94,348.3 L315.38,349.89 L315.45,351.46 L316.06,353.01 L315.84,354.71 L315.2,356.28 L313.92,357.59 L314.11,359.24 L313.49,360.5 L311.94,361.71 L312.02,363.36 L311,364.37 L309.85,366.49 L308.56,368.37 L307.49,366.55 L306.41,364.56 L305.75,362.75 L304.73,360.92 L304.63,359.03 L303.66,358.08 L302.22,356.44 L299.79,356.94 L297.88,355.65 L296.55,354.76 L296.17,352.83 L297.11,351.63 L299.18,349.22 L302.22,348.07 L301.91,346.83 L301.68,345.19 L301.52,343.34 L301.9,341.44 L300.53,340.1 L300.84,338.54 L300.71,336.99 L300.23,335.47 L301.11,333.99 L300.93,332.37 L300.46,330.64 L301.08,329.1 L301.71,327.66 L301.53,325.89 L302.65,324.74 L304.14,323.94 L305.62,323.19 L306.43,321.55 L308.07,320.65 L309.91,320.68Z" fill="none" stroke="#464646" stroke-width="5.5" filter="url(#b2)"/>
<ellipse cx="308.2" cy="351" rx="3.4" ry="8.5" fill="#b4b4b4" filter="url(#b1)"/>
<ellipse cx="308.9" cy="333.7" rx="6.2" ry="11.4" fill="#c2c2c2" filter="url(#b1)"/>
<path d="M311.09,321.27 L313.25,320.42 L314.49,321.68 L314.88,322.96 L315.51,324.42 L316.18,325.58 L316.28,327.05 L316.03,328.73 L315.88,330.5 L316.01,332.26 L316.04,333.81 L316.27,335.48 L316.2,337.12 L315.27,338.6 L314.51,340.12 L314.37,341.74 L314.1,343.46 L314.2,345.06 L314.99,346.63 L314.94,348.3 L315.38,349.89 L315.45,351.46 L316.06,353.01 L315.84,354.71 L315.2,356.28 L313.92,357.59 L314.11,359.24 L313.49,360.5 L311.94,361.71 L312.02,363.36 L311,364.37 L309.85,366.49 L308.56,368.37 L307.49,366.55 L306.41,364.56 L305.75,362.75 L304.73,360.92 L304.63,359.03 L303.66,358.08 L302.22,356.44 L299.79,356.94 L297.88,355.65 L296.55,354.76 L296.17,352.83 L297.11,351.63 L299.18,349.22 L302.22,348.07 L301.91,346.83 L301.68,345.19 L301.52,343.34 L301.9,341.44 L300.53,340.1 L300.84,338.54 L300.71,336.99 L300.23,335.47 L301.11,333.99 L300.93,332.37 L300.46,330.64 L301.08,329.1 L301.71,327.66 L301.53,325.89 L302.65,324.74 L304.14,323.94 L305.62,323.19 L306.43,321.55 L308.07,320.65 L309.91,320.68Z" fill="none" stroke="#2a2a2a" stroke-width="3.6" filter="url(#b08)"/>
<ellipse cx="308.6" cy="331.9" rx="2.6" ry="5.28" fill="#bcbcbc" stroke="#ececec" stroke-width="1.25" filter="url(#b05)"/>
<ellipse cx="308.5" cy="331" rx="1.4" ry="2.5" fill="#3a3a3a" filter="url(#b05)" transform="rotate(12 308.5 331)"/>
</g></g>
<ellipse cx="308.5" cy="372.8" rx="2" ry="1" fill="#222"/>
<polygon points="293.7,319.3 326,319.3 326,338.3 293.7,347.5" fill="none" stroke="#626262" stroke-width="0.7"/>
<text x="283.6" y="340.2" font-size="11" text-anchor="middle" font-weight="normal" fill="#1c1c1c" >68</text>
<polyline points="334.3,318.3 390.2,318.3 390.2,373.9" fill="none" stroke="#a6a6a6" stroke-width="0.9"/>
<polyline points="334.3,318.3 334.3,373.9 390.2,373.9" fill="none" stroke="#bcbcbc" stroke-width="0.8"/>
<line x1="332.5" y1="328.86" x2="334.3" y2="328.86" stroke="#777" stroke-width="0.8" stroke-linecap="butt"/>
<line x1="332.5" y1="343.32" x2="334.3" y2="343.32" stroke="#777" stroke-width="0.8" stroke-linecap="butt"/>
<line x1="332.5" y1="358.89" x2="334.3" y2="358.89" stroke="#777" stroke-width="0.8" stroke-linecap="butt"/>
<line x1="341.01" y1="373.9" x2="341.01" y2="375.5" stroke="#777" stroke-width="0.8" stroke-linecap="butt"/>
<line x1="354.42" y1="373.9" x2="354.42" y2="375.5" stroke="#777" stroke-width="0.8" stroke-linecap="butt"/>
<line x1="368.96" y1="373.9" x2="368.96" y2="375.5" stroke="#777" stroke-width="0.8" stroke-linecap="butt"/>
<line x1="381.26" y1="373.9" x2="381.26" y2="375.5" stroke="#777" stroke-width="0.8" stroke-linecap="butt"/>
<line x1="333.5" y1="320.3" x2="333.5" y2="372.9" stroke="#aaa" stroke-width="0.7" stroke-dasharray="0.7 1.1"/>
<line x1="336.3" y1="374.6" x2="389.2" y2="374.6" stroke="#aaa" stroke-width="0.7" stroke-dasharray="0.7 1.1"/>
<clipPath id="ce5"><path d="M379.25,319.33 L379.72,321.04 L381.29,322.51 L380.73,324.21 L381.16,326.28 L381.64,328.37 L380.84,330.2 L380.16,332.02 L380.51,333.91 L379.96,335.66 L379.83,337.45 L380.37,339.39 L379.11,340.73 L379.38,342.34 L378.64,343.8 L379.55,345.39 L378.83,347.09 L378.38,348.71 L377.89,350.24 L377.86,352.6 L377.17,354.64 L376.81,356.74 L375.75,358.48 L374.07,359.71 L373.35,361.56 L371.81,362.33 L371.22,364.1 L368.48,365.15 L367.41,364.15 L365.97,362.79 L365.88,361.05 L365.58,359.38 L365.02,357.56 L363.34,355.92 L363.3,353.95 L363.38,351.9 L363.13,350.39 L362.79,348.78 L363.06,347.24 L363.76,345.38 L364.7,343.44 L364.36,341.78 L364.56,340.01 L364.68,338.33 L364.9,336.07 L364.41,333.87 L365.62,331.92 L364.93,329.67 L365.22,327.77 L366.71,326.48 L367.46,324.71 L369.25,324.07 L370.51,322.44 L372.37,321.91 L373.96,320.97 L375.57,320.6 L377.37,320.26Z"/></clipPath>
<g filter="url(#soft)">
<path d="M379.25,319.33 L379.72,321.04 L381.29,322.51 L380.73,324.21 L381.16,326.28 L381.64,328.37 L380.84,330.2 L380.16,332.02 L380.51,333.91 L379.96,335.66 L379.83,337.45 L380.37,339.39 L379.11,340.73 L379.38,342.34 L378.64,343.8 L379.55,345.39 L378.83,347.09 L378.38,348.71 L377.89,350.24 L377.86,352.6 L377.17,354.64 L376.81,356.74 L375.75,358.48 L374.07,359.71 L373.35,361.56 L371.81,362.33 L371.22,364.1 L368.48,365.15 L367.41,364.15 L365.97,362.79 L365.88,361.05 L365.58,359.38 L365.02,357.56 L363.34,355.92 L363.3,353.95 L363.38,351.9 L363.13,350.39 L362.79,348.78 L363.06,347.24 L363.76,345.38 L364.7,343.44 L364.36,341.78 L364.56,340.01 L364.68,338.33 L364.9,336.07 L364.41,333.87 L365.62,331.92 L364.93,329.67 L365.22,327.77 L366.71,326.48 L367.46,324.71 L369.25,324.07 L370.51,322.44 L372.37,321.91 L373.96,320.97 L375.57,320.6 L377.37,320.26Z" fill="#a2a2a2"/>
<g clip-path="url(#ce5)">
<path d="M379.25,319.33 L379.72,321.04 L381.29,322.51 L380.73,324.21 L381.16,326.28 L381.64,328.37 L380.84,330.2 L380.16,332.02 L380.51,333.91 L379.96,335.66 L379.83,337.45 L380.37,339.39 L379.11,340.73 L379.38,342.34 L378.64,343.8 L379.55,345.39 L378.83,347.09 L378.38,348.71 L377.89,350.24 L377.86,352.6 L377.17,354.64 L376.81,356.74 L375.75,358.48 L374.07,359.71 L373.35,361.56 L371.81,362.33 L371.22,364.1 L368.48,365.15 L367.41,364.15 L365.97,362.79 L365.88,361.05 L365.58,359.38 L365.02,357.56 L363.34,355.92 L363.3,353.95 L363.38,351.9 L363.13,350.39 L362.79,348.78 L363.06,347.24 L363.76,345.38 L364.7,343.44 L364.36,341.78 L364.56,340.01 L364.68,338.33 L364.9,336.07 L364.41,333.87 L365.62,331.92 L364.93,329.67 L365.22,327.77 L366.71,326.48 L367.46,324.71 L369.25,324.07 L370.51,322.44 L372.37,321.91 L373.96,320.97 L375.57,320.6 L377.37,320.26Z" fill="none" stroke="#464646" stroke-width="5.5" filter="url(#b2)"/>
<ellipse cx="371.5" cy="349.8" rx="3.4" ry="9" fill="#b4b4b4" filter="url(#b1)"/>
<ellipse cx="372.6" cy="333.7" rx="6.4" ry="11.4" fill="#c2c2c2" filter="url(#b1)"/>
<path d="M379.25,319.33 L379.72,321.04 L381.29,322.51 L380.73,324.21 L381.16,326.28 L381.64,328.37 L380.84,330.2 L380.16,332.02 L380.51,333.91 L379.96,335.66 L379.83,337.45 L380.37,339.39 L379.11,340.73 L379.38,342.34 L378.64,343.8 L379.55,345.39 L378.83,347.09 L378.38,348.71 L377.89,350.24 L377.86,352.6 L377.17,354.64 L376.81,356.74 L375.75,358.48 L374.07,359.71 L373.35,361.56 L371.81,362.33 L371.22,364.1 L368.48,365.15 L367.41,364.15 L365.97,362.79 L365.88,361.05 L365.58,359.38 L365.02,357.56 L363.34,355.92 L363.3,353.95 L363.38,351.9 L363.13,350.39 L362.79,348.78 L363.06,347.24 L363.76,345.38 L364.7,343.44 L364.36,341.78 L364.56,340.01 L364.68,338.33 L364.9,336.07 L364.41,333.87 L365.62,331.92 L364.93,329.67 L365.22,327.77 L366.71,326.48 L367.46,324.71 L369.25,324.07 L370.51,322.44 L372.37,321.91 L373.96,320.97 L375.57,320.6 L377.37,320.26Z" fill="none" stroke="#2a2a2a" stroke-width="3.6" filter="url(#b08)"/>
<ellipse cx="372.3" cy="331.9" rx="2.73" ry="5.28" fill="#bcbcbc" stroke="#ececec" stroke-width="1.25" filter="url(#b05)"/>
<ellipse cx="372.2" cy="331" rx="1.4" ry="2.5" fill="#3a3a3a" filter="url(#b05)" transform="rotate(12 372.2 331)"/>
</g></g>
<ellipse cx="362.7" cy="334.4" rx="0.8" ry="0.8" fill="#222"/>
<ellipse cx="360.8" cy="350" rx="0.9" ry="0.8" fill="#222"/>
<ellipse cx="363.5" cy="359.1" rx="0.8" ry="0.8" fill="#222"/>
<ellipse cx="370.3" cy="369" rx="0.5" ry="0.5" fill="#222"/>
<polygon points="357,319.3 388.7,319.3 388.7,338.3 357,347.5" fill="none" stroke="#626262" stroke-width="0.7"/>
<text x="344.5" y="340.2" font-size="11" text-anchor="middle" font-weight="normal" fill="#1c1c1c" >69</text>
<text x="274.7" y="385.6" font-size="11.3" text-anchor="start" font-weight="normal" fill="#1c1c1c" >CD4</text>
<line x1="302.2" y1="381.2" x2="384.6" y2="381.2" stroke="#111" stroke-width="1.2" stroke-linecap="butt"/>
<polyline points="379.2,377.1 384.6,381.2 379.2,385.3" fill="none" stroke="#111" stroke-width="1.2"/>
<line x1="401" y1="329.3" x2="401" y2="208.8" stroke="#111" stroke-width="1.2" stroke-linecap="butt"/>
<polyline points="396.9,214.2 401,208.8 405.1,214.2" fill="none" stroke="#111" stroke-width="1.2"/>
<text x="405.8" y="354.8" font-size="11.2" text-anchor="middle" font-weight="normal" fill="#1c1c1c" transform="rotate(-90 405.8 354.8)" >FoxP3</text>
<rect x="74.47" y="414.98" width="15.35" height="7.45" rx="0.6" fill="#fff" stroke="#111" stroke-width="1.35"/>
<rect x="74.47" y="429.18" width="15.35" height="7.25" rx="0.6" fill="#000" stroke="#111" stroke-width="1.35"/>
<rect x="75.47" y="442.57" width="15.35" height="7.45" rx="0.6" fill="#808080" stroke="#2a2a2a" stroke-width="1.35"/>
<text x="96.6" y="422.8" font-size="11.3" text-anchor="start" font-weight="normal" fill="#1c1c1c" >Empty vector</text>
<text x="96.6" y="436.7" font-size="11.3" text-anchor="start" font-weight="normal" fill="#1c1c1c" >WT RAR&#945;</text>
<text x="96.6" y="451.2" font-size="11.3" text-anchor="start" font-weight="normal" fill="#1c1c1c" >&#916;LB RAR&#945;</text>
<line x1="84.9" y1="520" x2="84.9" y2="513.2" stroke="#111" stroke-width="1.4" stroke-linecap="butt"/>
<line x1="81.8" y1="513.8" x2="88" y2="513.8" stroke="#111" stroke-width="1.4" stroke-linecap="butt"/>
<rect x="80.45" y="520.35" width="8.9" height="69.25" fill="#ffffff" stroke="#111" stroke-width="1.7"/>
<line x1="98.4" y1="514.9" x2="98.4" y2="508.6" stroke="#111" stroke-width="1.4" stroke-linecap="butt"/>
<line x1="95.3" y1="509.2" x2="101.5" y2="509.2" stroke="#111" stroke-width="1.4" stroke-linecap="butt"/>
<rect x="93.95" y="515.25" width="8.9" height="74.35" fill="#ffffff" stroke="#111" stroke-width="1.7"/>
<line x1="117.05" y1="501.3" x2="117.05" y2="489.9" stroke="#111" stroke-width="1.4" stroke-linecap="butt"/>
<line x1="113.95" y1="490.5" x2="120.15" y2="490.5" stroke="#111" stroke-width="1.4" stroke-linecap="butt"/>
<rect x="112.55" y="501.65" width="9" height="87.95" fill="#000000" stroke="#111" stroke-width="1.7"/>
<line x1="130.35" y1="544.6" x2="130.35" y2="535.9" stroke="#111" stroke-width="1.4" stroke-linecap="butt"/>
<line x1="127.25" y1="536.5" x2="133.45" y2="536.5" stroke="#111" stroke-width="1.4" stroke-linecap="butt"/>
<rect x="125.85" y="544.95" width="9" height="44.65" fill="#000000" stroke="#111" stroke-width="1.7"/>
<line x1="149.05" y1="504.8" x2="149.05" y2="495.7" stroke="#111" stroke-width="1.4" stroke-linecap="butt"/>
<line x1="145.95" y1="496.3" x2="152.15" y2="496.3" stroke="#111" stroke-width="1.4" stroke-linecap="butt"/>
<rect x="144.55" y="505.15" width="9" height="84.45" fill="#808080" stroke="#111" stroke-width="1.7"/>
<line x1="162.35" y1="501.6" x2="162.35" y2="494.5" stroke="#111" stroke-width="1.4" stroke-linecap="butt"/>
<line x1="159.25" y1="495.1" x2="165.45" y2="495.1" stroke="#111" stroke-width="1.4" stroke-linecap="butt"/>
<rect x="157.85" y="501.95" width="9" height="87.65" fill="#808080" stroke="#111" stroke-width="1.7"/>
<line x1="73.3" y1="483.7" x2="73.3" y2="590.4" stroke="#111" stroke-width="1.6" stroke-linecap="butt"/>
<line x1="68.6" y1="589.6" x2="174.2" y2="589.6" stroke="#111" stroke-width="1.6" stroke-linecap="butt"/>
<line x1="68.6" y1="484.5" x2="73.3" y2="484.5" stroke="#111" stroke-width="1.6" stroke-linecap="butt"/>
<text x="65.6" y="488.62" font-size="11.5" text-anchor="end" font-weight="normal" fill="#1c1c1c" >30</text>
<line x1="68.6" y1="519.9" x2="73.3" y2="519.9" stroke="#111" stroke-width="1.6" stroke-linecap="butt"/>
<text x="65.6" y="524.02" font-size="11.5" text-anchor="end" font-weight="normal" fill="#1c1c1c" >20</text>
<line x1="68.6" y1="554.7" x2="73.3" y2="554.7" stroke="#111" stroke-width="1.6" stroke-linecap="butt"/>
<text x="65.6" y="558.82" font-size="11.5" text-anchor="end" font-weight="normal" fill="#1c1c1c" >10</text>
<line x1="68.6" y1="589.6" x2="73.3" y2="589.6" stroke="#111" stroke-width="1.6" stroke-linecap="butt"/>
<text x="65.6" y="593.72" font-size="11.5" text-anchor="end" font-weight="normal" fill="#1c1c1c" >0</text>
<line x1="84.9" y1="589.6" x2="84.9" y2="594.4" stroke="#111" stroke-width="1.6" stroke-linecap="butt"/>
<line x1="98.4" y1="589.6" x2="98.4" y2="594.4" stroke="#111" stroke-width="1.6" stroke-linecap="butt"/>
<line x1="117" y1="589.6" x2="117" y2="594.4" stroke="#111" stroke-width="1.6" stroke-linecap="butt"/>
<line x1="130.4" y1="589.6" x2="130.4" y2="594.4" stroke="#111" stroke-width="1.6" stroke-linecap="butt"/>
<line x1="149" y1="589.6" x2="149" y2="594.4" stroke="#111" stroke-width="1.6" stroke-linecap="butt"/>
<line x1="162.4" y1="589.6" x2="162.4" y2="594.4" stroke="#111" stroke-width="1.6" stroke-linecap="butt"/>
<text x="44.4" y="609.1" font-size="11.3" text-anchor="start" font-weight="normal" fill="#1c1c1c" >RA</text>
<line x1="82.2" y1="605.3" x2="87.6" y2="605.3" stroke="#222" stroke-width="1.15" stroke-linecap="butt"/>
<line x1="95.9" y1="605.3" x2="100.9" y2="605.3" stroke="#222" stroke-width="1.15" stroke-linecap="butt"/>
<line x1="98.4" y1="602.8" x2="98.4" y2="607.8" stroke="#222" stroke-width="1.15" stroke-linecap="butt"/>
<line x1="114.3" y1="605.3" x2="119.7" y2="605.3" stroke="#222" stroke-width="1.15" stroke-linecap="butt"/>
<line x1="127.9" y1="605.3" x2="132.9" y2="605.3" stroke="#222" stroke-width="1.15" stroke-linecap="butt"/>
<line x1="130.4" y1="602.8" x2="130.4" y2="607.8" stroke="#222" stroke-width="1.15" stroke-linecap="butt"/>
<line x1="146.3" y1="605.3" x2="151.7" y2="605.3" stroke="#222" stroke-width="1.15" stroke-linecap="butt"/>
<line x1="159.9" y1="605.3" x2="164.9" y2="605.3" stroke="#222" stroke-width="1.15" stroke-linecap="butt"/>
<line x1="162.4" y1="602.8" x2="162.4" y2="607.8" stroke="#222" stroke-width="1.15" stroke-linecap="butt"/>
<text x="32.7" y="543.6" font-size="10.8" text-anchor="middle" font-weight="normal" fill="#1c1c1c" transform="rotate(-90 32.7 543.6)" >IL-17A<tspan font-size="7" dy="-3.6">+</tspan><tspan dy="3.6"> %</tspan></text>
<text x="44.4" y="541.4" font-size="10.8" text-anchor="middle" font-weight="normal" fill="#1c1c1c" transform="rotate(-90 44.4 541.4)" >of transduced CD4<tspan font-size="7" dy="-3.6">+</tspan></text>
<line x1="84.2" y1="471.1" x2="153" y2="471.1" stroke="#111" stroke-width="1.1" stroke-linecap="butt"/>
<line x1="84.2" y1="474.5" x2="120.9" y2="474.5" stroke="#111" stroke-width="1.1" stroke-linecap="butt"/>
<line x1="122.3" y1="487.6" x2="134.6" y2="487.6" stroke="#111" stroke-width="1.1" stroke-linecap="butt"/>
<line x1="115.2" y1="460.4" x2="115.2" y2="468.8" stroke="#111" stroke-width="1.1" stroke-linecap="butt"/>
<line x1="111.56" y1="462.5" x2="118.84" y2="466.7" stroke="#111" stroke-width="1.1" stroke-linecap="butt"/>
<line x1="118.84" y1="462.5" x2="111.56" y2="466.7" stroke="#111" stroke-width="1.1" stroke-linecap="butt"/>
<line x1="126.7" y1="478.4" x2="126.7" y2="486.8" stroke="#111" stroke-width="1.1" stroke-linecap="butt"/>
<line x1="123.06" y1="480.5" x2="130.34" y2="484.7" stroke="#111" stroke-width="1.1" stroke-linecap="butt"/>
<line x1="130.34" y1="480.5" x2="123.06" y2="484.7" stroke="#111" stroke-width="1.1" stroke-linecap="butt"/>
<rect x="285.78" y="416.28" width="14.75" height="7.05" rx="0.6" fill="#fff" stroke="#111" stroke-width="1.35"/>
<rect x="285.78" y="431.57" width="14.75" height="6.85" rx="0.6" fill="#000" stroke="#111" stroke-width="1.35"/>
<rect x="285.78" y="445.98" width="14.75" height="7.05" rx="0.6" fill="#808080" stroke="#2a2a2a" stroke-width="1.35"/>
<text x="306.5" y="423.5" font-size="11.3" text-anchor="start" font-weight="normal" fill="#1c1c1c" >Empty vector</text>
<text x="306.5" y="438.6" font-size="11.3" text-anchor="start" font-weight="normal" fill="#1c1c1c" >WT RAR&#945;</text>
<text x="306.5" y="453.5" font-size="11.3" text-anchor="start" font-weight="normal" fill="#1c1c1c" >&#916;LB RAR&#945;</text>
<line x1="298.7" y1="516.3" x2="298.7" y2="509.1" stroke="#111" stroke-width="1.4" stroke-linecap="butt"/>
<line x1="295.7" y1="509.7" x2="301.7" y2="509.7" stroke="#111" stroke-width="1.4" stroke-linecap="butt"/>
<rect x="294.55" y="516.65" width="8.3" height="68.75" fill="#ffffff" stroke="#111" stroke-width="1.7"/>
<line x1="311.9" y1="522" x2="311.9" y2="511.5" stroke="#111" stroke-width="1.4" stroke-linecap="butt"/>
<line x1="308.9" y1="512.1" x2="314.9" y2="512.1" stroke="#111" stroke-width="1.4" stroke-linecap="butt"/>
<rect x="307.65" y="522.35" width="8.5" height="63.05" fill="#ffffff" stroke="#111" stroke-width="1.7"/>
<line x1="330.8" y1="556.3" x2="330.8" y2="546" stroke="#111" stroke-width="1.4" stroke-linecap="butt"/>
<line x1="327.8" y1="546.6" x2="333.8" y2="546.6" stroke="#111" stroke-width="1.4" stroke-linecap="butt"/>
<rect x="326.55" y="556.65" width="8.5" height="28.75" fill="#000000" stroke="#111" stroke-width="1.7"/>
<line x1="343.8" y1="547.5" x2="343.8" y2="533.9" stroke="#111" stroke-width="1.4" stroke-linecap="butt"/>
<line x1="340.8" y1="534.5" x2="346.8" y2="534.5" stroke="#111" stroke-width="1.4" stroke-linecap="butt"/>
<rect x="339.35" y="547.85" width="8.9" height="37.55" fill="#000000" stroke="#111" stroke-width="1.7"/>
<line x1="362.8" y1="537.8" x2="362.8" y2="528.1" stroke="#111" stroke-width="1.4" stroke-linecap="butt"/>
<line x1="359.8" y1="528.7" x2="365.8" y2="528.7" stroke="#111" stroke-width="1.4" stroke-linecap="butt"/>
<rect x="358.65" y="538.15" width="8.3" height="47.25" fill="#808080" stroke="#111" stroke-width="1.7"/>
<line x1="375.8" y1="548.1" x2="375.8" y2="538.2" stroke="#111" stroke-width="1.4" stroke-linecap="butt"/>
<line x1="372.8" y1="538.8" x2="378.8" y2="538.8" stroke="#111" stroke-width="1.4" stroke-linecap="butt"/>
<rect x="371.55" y="548.45" width="8.5" height="36.95" fill="#808080" stroke="#111" stroke-width="1.7"/>
<line x1="287.8" y1="484.6" x2="287.8" y2="586.2" stroke="#111" stroke-width="1.6" stroke-linecap="butt"/>
<line x1="282.6" y1="585.4" x2="387.6" y2="585.4" stroke="#111" stroke-width="1.6" stroke-linecap="butt"/>
<line x1="282.6" y1="485.4" x2="287.8" y2="485.4" stroke="#111" stroke-width="1.6" stroke-linecap="butt"/>
<text x="279.7" y="489.52" font-size="11.5" text-anchor="end" font-weight="normal" fill="#1c1c1c" >90</text>
<line x1="282.6" y1="510.4" x2="287.8" y2="510.4" stroke="#111" stroke-width="1.6" stroke-linecap="butt"/>
<text x="279.7" y="514.52" font-size="11.5" text-anchor="end" font-weight="normal" fill="#1c1c1c" >80</text>
<line x1="282.6" y1="535.4" x2="287.8" y2="535.4" stroke="#111" stroke-width="1.6" stroke-linecap="butt"/>
<text x="279.7" y="539.52" font-size="11.5" text-anchor="end" font-weight="normal" fill="#1c1c1c" >70</text>
<line x1="282.6" y1="560.3" x2="287.8" y2="560.3" stroke="#111" stroke-width="1.6" stroke-linecap="butt"/>
<text x="279.7" y="564.42" font-size="11.5" text-anchor="end" font-weight="normal" fill="#1c1c1c" >60</text>
<line x1="282.6" y1="585.4" x2="287.8" y2="585.4" stroke="#111" stroke-width="1.6" stroke-linecap="butt"/>
<text x="279.7" y="589.52" font-size="11.5" text-anchor="end" font-weight="normal" fill="#1c1c1c" >50</text>
<line x1="298.7" y1="585.4" x2="298.7" y2="590" stroke="#111" stroke-width="1.6" stroke-linecap="butt"/>
<line x1="311.9" y1="585.4" x2="311.9" y2="590" stroke="#111" stroke-width="1.6" stroke-linecap="butt"/>
<line x1="330.8" y1="585.4" x2="330.8" y2="590" stroke="#111" stroke-width="1.6" stroke-linecap="butt"/>
<line x1="343.9" y1="585.4" x2="343.9" y2="590" stroke="#111" stroke-width="1.6" stroke-linecap="butt"/>
<line x1="362.8" y1="585.4" x2="362.8" y2="590" stroke="#111" stroke-width="1.6" stroke-linecap="butt"/>
<line x1="375.9" y1="585.4" x2="375.9" y2="590" stroke="#111" stroke-width="1.6" stroke-linecap="butt"/>
<text x="257.4" y="601.6" font-size="11.3" text-anchor="start" font-weight="normal" fill="#1c1c1c" >RA</text>
<line x1="296" y1="598.6" x2="301.4" y2="598.6" stroke="#222" stroke-width="1.15" stroke-linecap="butt"/>
<line x1="309.4" y1="598.6" x2="314.4" y2="598.6" stroke="#222" stroke-width="1.15" stroke-linecap="butt"/>
<line x1="311.9" y1="596.1" x2="311.9" y2="601.1" stroke="#222" stroke-width="1.15" stroke-linecap="butt"/>
<line x1="328.1" y1="598.6" x2="333.5" y2="598.6" stroke="#222" stroke-width="1.15" stroke-linecap="butt"/>
<line x1="341.4" y1="598.6" x2="346.4" y2="598.6" stroke="#222" stroke-width="1.15" stroke-linecap="butt"/>
<line x1="343.9" y1="596.1" x2="343.9" y2="601.1" stroke="#222" stroke-width="1.15" stroke-linecap="butt"/>
<line x1="360.1" y1="598.6" x2="365.5" y2="598.6" stroke="#222" stroke-width="1.15" stroke-linecap="butt"/>
<line x1="373.4" y1="598.6" x2="378.4" y2="598.6" stroke="#222" stroke-width="1.15" stroke-linecap="butt"/>
<line x1="375.9" y1="596.1" x2="375.9" y2="601.1" stroke="#222" stroke-width="1.15" stroke-linecap="butt"/>
<text x="243.9" y="534.3" font-size="10.6" text-anchor="middle" font-weight="normal" fill="#1c1c1c" transform="rotate(-90 243.9 534.3)" >FoxP3<tspan font-size="7" dy="-3.6">+</tspan><tspan dy="3.6"> %</tspan></text>
<text x="257.1" y="532.8" font-size="10.6" text-anchor="middle" font-weight="normal" fill="#1c1c1c" transform="rotate(-90 257.1 532.8)" >of transduced CD4<tspan font-size="7" dy="-3.6">+</tspan></text>
<line x1="295.8" y1="491.9" x2="364.1" y2="491.9" stroke="#222" stroke-width="1.1" stroke-linecap="butt"/>
<line x1="295.8" y1="495.4" x2="332.6" y2="495.4" stroke="#222" stroke-width="1.1" stroke-linecap="butt"/>
<line x1="327.4" y1="481.2" x2="327.4" y2="489.6" stroke="#111" stroke-width="1.1" stroke-linecap="butt"/>
<line x1="323.76" y1="483.3" x2="331.04" y2="487.5" stroke="#111" stroke-width="1.1" stroke-linecap="butt"/>
<line x1="331.04" y1="483.3" x2="323.76" y2="487.5" stroke="#111" stroke-width="1.1" stroke-linecap="butt"/>
<text x="468" y="178.6" font-size="13" text-anchor="start" font-weight="bold" fill="#000" >f</text>
<rect x="535.48" y="178.88" width="15.45" height="6.55" rx="0.6" fill="#fff" stroke="#111" stroke-width="1.35"/>
<rect x="535.48" y="192.78" width="15.45" height="6.85" rx="0.6" fill="#000" stroke="#111" stroke-width="1.35"/>
<rect x="535.48" y="207.18" width="15.45" height="6.85" rx="0.6" fill="#808080" stroke="#2a2a2a" stroke-width="1.35"/>
<text x="557.5" y="186" font-size="11.3" text-anchor="start" font-weight="normal" fill="#1c1c1c" >Empty vector</text>
<text x="557.5" y="200" font-size="11.3" text-anchor="start" font-weight="normal" fill="#1c1c1c" >WT RAR&#945;</text>
<text x="557.5" y="214.8" font-size="11.3" text-anchor="start" font-weight="normal" fill="#1c1c1c" >&#916;LB RAR&#945;</text>
<rect x="540.85" y="285.65" width="8.3" height="49.05" fill="#ffffff" stroke="#111" stroke-width="1.7"/>
<rect x="554.45" y="285.65" width="8.4" height="49.05" fill="#ffffff" stroke="#111" stroke-width="1.7"/>
<line x1="576.55" y1="268.4" x2="576.55" y2="260.9" stroke="#111" stroke-width="1.4" stroke-linecap="butt"/>
<line x1="573.55" y1="261.5" x2="579.55" y2="261.5" stroke="#111" stroke-width="1.4" stroke-linecap="butt"/>
<rect x="572.15" y="268.75" width="8.8" height="65.95" fill="#000000" stroke="#111" stroke-width="1.7"/>
<line x1="590.15" y1="295.7" x2="590.15" y2="292" stroke="#111" stroke-width="1.4" stroke-linecap="butt"/>
<line x1="587.15" y1="292.6" x2="593.15" y2="292.6" stroke="#111" stroke-width="1.4" stroke-linecap="butt"/>
<rect x="585.75" y="296.05" width="8.8" height="38.65" fill="#000000" stroke="#111" stroke-width="1.7"/>
<line x1="609.55" y1="267.7" x2="609.55" y2="261.2" stroke="#111" stroke-width="1.4" stroke-linecap="butt"/>
<line x1="606.55" y1="261.8" x2="612.55" y2="261.8" stroke="#111" stroke-width="1.4" stroke-linecap="butt"/>
<rect x="605.35" y="268.05" width="8.4" height="66.65" fill="#808080" stroke="#111" stroke-width="1.7"/>
<line x1="622.65" y1="273.4" x2="622.65" y2="268.4" stroke="#111" stroke-width="1.4" stroke-linecap="butt"/>
<line x1="619.65" y1="269" x2="625.65" y2="269" stroke="#111" stroke-width="1.4" stroke-linecap="butt"/>
<rect x="618.45" y="273.75" width="8.4" height="60.95" fill="#808080" stroke="#111" stroke-width="1.7"/>
<line x1="533.8" y1="234.6" x2="533.8" y2="335.5" stroke="#111" stroke-width="1.6" stroke-linecap="butt"/>
<line x1="528.9" y1="334.7" x2="633.8" y2="334.7" stroke="#111" stroke-width="1.6" stroke-linecap="butt"/>
<line x1="528.9" y1="235.4" x2="533.8" y2="235.4" stroke="#111" stroke-width="1.6" stroke-linecap="butt"/>
<text x="525.9" y="239.23" font-size="10.7" text-anchor="end" font-weight="normal" fill="#333" >2.0</text>
<line x1="528.9" y1="260.2" x2="533.8" y2="260.2" stroke="#111" stroke-width="1.6" stroke-linecap="butt"/>
<text x="525.9" y="264.03" font-size="10.7" text-anchor="end" font-weight="normal" fill="#333" >1.5</text>
<line x1="528.9" y1="285" x2="533.8" y2="285" stroke="#111" stroke-width="1.6" stroke-linecap="butt"/>
<text x="525.9" y="288.83" font-size="10.7" text-anchor="end" font-weight="normal" fill="#333" >1.0</text>
<line x1="528.9" y1="309.8" x2="533.8" y2="309.8" stroke="#111" stroke-width="1.6" stroke-linecap="butt"/>
<text x="525.9" y="313.63" font-size="10.7" text-anchor="end" font-weight="normal" fill="#333" >0.5</text>
<line x1="528.9" y1="334.7" x2="533.8" y2="334.7" stroke="#111" stroke-width="1.6" stroke-linecap="butt"/>
<text x="525.9" y="338.53" font-size="10.7" text-anchor="end" font-weight="normal" fill="#333" >0.0</text>
<line x1="545" y1="334.7" x2="545" y2="338.8" stroke="#111" stroke-width="1.6" stroke-linecap="butt"/>
<line x1="558.6" y1="334.7" x2="558.6" y2="338.8" stroke="#111" stroke-width="1.6" stroke-linecap="butt"/>
<line x1="576.6" y1="334.7" x2="576.6" y2="338.8" stroke="#111" stroke-width="1.6" stroke-linecap="butt"/>
<line x1="590.1" y1="334.7" x2="590.1" y2="338.8" stroke="#111" stroke-width="1.6" stroke-linecap="butt"/>
<line x1="609.5" y1="334.7" x2="609.5" y2="338.8" stroke="#111" stroke-width="1.6" stroke-linecap="butt"/>
<line x1="622.7" y1="334.7" x2="622.7" y2="338.8" stroke="#111" stroke-width="1.6" stroke-linecap="butt"/>
<text x="502.2" y="351.6" font-size="11.3" text-anchor="start" font-weight="normal" fill="#1c1c1c" >RA</text>
<line x1="542.3" y1="348.6" x2="547.7" y2="348.6" stroke="#222" stroke-width="1.15" stroke-linecap="butt"/>
<line x1="556.1" y1="348.6" x2="561.1" y2="348.6" stroke="#222" stroke-width="1.15" stroke-linecap="butt"/>
<line x1="558.6" y1="346.1" x2="558.6" y2="351.1" stroke="#222" stroke-width="1.15" stroke-linecap="butt"/>
<line x1="573.9" y1="348.6" x2="579.3" y2="348.6" stroke="#222" stroke-width="1.15" stroke-linecap="butt"/>
<line x1="587.6" y1="348.6" x2="592.6" y2="348.6" stroke="#222" stroke-width="1.15" stroke-linecap="butt"/>
<line x1="590.1" y1="346.1" x2="590.1" y2="351.1" stroke="#222" stroke-width="1.15" stroke-linecap="butt"/>
<line x1="606.8" y1="348.6" x2="612.2" y2="348.6" stroke="#222" stroke-width="1.15" stroke-linecap="butt"/>
<line x1="620.2" y1="348.6" x2="625.2" y2="348.6" stroke="#222" stroke-width="1.15" stroke-linecap="butt"/>
<line x1="622.7" y1="346.1" x2="622.7" y2="351.1" stroke="#222" stroke-width="1.15" stroke-linecap="butt"/>
<text x="488.2" y="281.5" font-size="10.3" text-anchor="middle" font-weight="normal" fill="#1c1c1c" transform="rotate(-90 488.2 281.5)" >pAkt MFI (normalized)</text>
<text x="500" y="281.8" font-size="10.8" text-anchor="middle" font-weight="normal" fill="#1c1c1c" transform="rotate(-90 500 281.8)" >of transduced CD4<tspan font-size="7" dy="-3.6">+</tspan></text>
<line x1="540.8" y1="237.9" x2="609" y2="237.9" stroke="#444" stroke-width="1.2" stroke-linecap="butt"/>
<line x1="540.8" y1="240.9" x2="576.8" y2="240.9" stroke="#666" stroke-width="1.2" stroke-linecap="butt"/>
<line x1="575.5" y1="254.7" x2="590.4" y2="254.7" stroke="#222" stroke-width="1.1" stroke-linecap="butt"/>
<line x1="572.5" y1="227" x2="572.5" y2="235.4" stroke="#111" stroke-width="1.1" stroke-linecap="butt"/>
<line x1="568.86" y1="229.1" x2="576.14" y2="233.3" stroke="#111" stroke-width="1.1" stroke-linecap="butt"/>
<line x1="576.14" y1="229.1" x2="568.86" y2="233.3" stroke="#111" stroke-width="1.1" stroke-linecap="butt"/>
<line x1="583" y1="244.8" x2="583" y2="253.2" stroke="#111" stroke-width="1.1" stroke-linecap="butt"/>
<line x1="579.36" y1="246.9" x2="586.64" y2="251.1" stroke="#111" stroke-width="1.1" stroke-linecap="butt"/>
<line x1="586.64" y1="246.9" x2="579.36" y2="251.1" stroke="#111" stroke-width="1.1" stroke-linecap="butt"/>
<rect x="540.85" y="428.05" width="8.3" height="65.45" fill="#ffffff" stroke="#111" stroke-width="1.7"/>
<rect x="554.45" y="428.05" width="8.4" height="65.45" fill="#ffffff" stroke="#111" stroke-width="1.7"/>
<line x1="576.55" y1="407.9" x2="576.55" y2="400.4" stroke="#111" stroke-width="1.4" stroke-linecap="butt"/>
<line x1="573.55" y1="401" x2="579.55" y2="401" stroke="#111" stroke-width="1.4" stroke-linecap="butt"/>
<rect x="572.15" y="408.25" width="8.8" height="85.25" fill="#000000" stroke="#111" stroke-width="1.7"/>
<line x1="590.15" y1="436.9" x2="590.15" y2="433.2" stroke="#111" stroke-width="1.4" stroke-linecap="butt"/>
<line x1="587.15" y1="433.8" x2="593.15" y2="433.8" stroke="#111" stroke-width="1.4" stroke-linecap="butt"/>
<rect x="585.75" y="437.25" width="8.8" height="56.25" fill="#000000" stroke="#111" stroke-width="1.7"/>
<line x1="609.55" y1="411.3" x2="609.55" y2="404.9" stroke="#111" stroke-width="1.4" stroke-linecap="butt"/>
<line x1="606.55" y1="405.5" x2="612.55" y2="405.5" stroke="#111" stroke-width="1.4" stroke-linecap="butt"/>
<rect x="605.35" y="411.65" width="8.4" height="81.85" fill="#808080" stroke="#111" stroke-width="1.7"/>
<line x1="622.65" y1="414.6" x2="622.65" y2="407.9" stroke="#111" stroke-width="1.4" stroke-linecap="butt"/>
<line x1="619.65" y1="408.5" x2="625.65" y2="408.5" stroke="#111" stroke-width="1.4" stroke-linecap="butt"/>
<rect x="618.45" y="414.95" width="8.4" height="78.55" fill="#808080" stroke="#111" stroke-width="1.7"/>
<line x1="533.8" y1="393" x2="533.8" y2="494.3" stroke="#111" stroke-width="1.6" stroke-linecap="butt"/>
<line x1="528.9" y1="493.5" x2="633.8" y2="493.5" stroke="#111" stroke-width="1.6" stroke-linecap="butt"/>
<line x1="528.9" y1="393.8" x2="533.8" y2="393.8" stroke="#111" stroke-width="1.6" stroke-linecap="butt"/>
<text x="525.9" y="397.67" font-size="10.8" text-anchor="end" font-weight="normal" fill="#333" >1.5</text>
<line x1="528.9" y1="427.2" x2="533.8" y2="427.2" stroke="#111" stroke-width="1.6" stroke-linecap="butt"/>
<text x="525.9" y="431.07" font-size="10.8" text-anchor="end" font-weight="normal" fill="#333" >1.0</text>
<line x1="528.9" y1="460.4" x2="533.8" y2="460.4" stroke="#111" stroke-width="1.6" stroke-linecap="butt"/>
<text x="525.9" y="464.27" font-size="10.8" text-anchor="end" font-weight="normal" fill="#333" >0.5</text>
<line x1="528.9" y1="493.5" x2="533.8" y2="493.5" stroke="#111" stroke-width="1.6" stroke-linecap="butt"/>
<text x="525.9" y="497.37" font-size="10.8" text-anchor="end" font-weight="normal" fill="#333" >0.0</text>
<line x1="545" y1="493.5" x2="545" y2="497.8" stroke="#111" stroke-width="1.6" stroke-linecap="butt"/>
<line x1="558.6" y1="493.5" x2="558.6" y2="497.8" stroke="#111" stroke-width="1.6" stroke-linecap="butt"/>
<line x1="576.6" y1="493.5" x2="576.6" y2="497.8" stroke="#111" stroke-width="1.6" stroke-linecap="butt"/>
<line x1="590.1" y1="493.5" x2="590.1" y2="497.8" stroke="#111" stroke-width="1.6" stroke-linecap="butt"/>
<line x1="609.5" y1="493.5" x2="609.5" y2="497.8" stroke="#111" stroke-width="1.6" stroke-linecap="butt"/>
<line x1="622.7" y1="493.5" x2="622.7" y2="497.8" stroke="#111" stroke-width="1.6" stroke-linecap="butt"/>
<text x="502.2" y="509" font-size="11.3" text-anchor="start" font-weight="normal" fill="#1c1c1c" >RA</text>
<line x1="542.3" y1="505.9" x2="547.7" y2="505.9" stroke="#222" stroke-width="1.15" stroke-linecap="butt"/>
<line x1="556.1" y1="505.9" x2="561.1" y2="505.9" stroke="#222" stroke-width="1.15" stroke-linecap="butt"/>
<line x1="558.6" y1="503.4" x2="558.6" y2="508.4" stroke="#222" stroke-width="1.15" stroke-linecap="butt"/>
<line x1="573.9" y1="505.9" x2="579.3" y2="505.9" stroke="#222" stroke-width="1.15" stroke-linecap="butt"/>
<line x1="587.6" y1="505.9" x2="592.6" y2="505.9" stroke="#222" stroke-width="1.15" stroke-linecap="butt"/>
<line x1="590.1" y1="503.4" x2="590.1" y2="508.4" stroke="#222" stroke-width="1.15" stroke-linecap="butt"/>
<line x1="606.8" y1="505.9" x2="612.2" y2="505.9" stroke="#222" stroke-width="1.15" stroke-linecap="butt"/>
<line x1="620.2" y1="505.9" x2="625.2" y2="505.9" stroke="#222" stroke-width="1.15" stroke-linecap="butt"/>
<line x1="622.7" y1="503.4" x2="622.7" y2="508.4" stroke="#222" stroke-width="1.15" stroke-linecap="butt"/>
<text x="484.9" y="436.3" font-size="10.8" text-anchor="middle" font-weight="normal" fill="#1c1c1c" transform="rotate(-90 484.9 436.3)" >% pS6<tspan font-size="7" dy="-3.6">+</tspan><tspan dy="3.6"> MFI (normalized)</tspan></text>
<text x="498" y="439.4" font-size="10.8" text-anchor="middle" font-weight="normal" fill="#1c1c1c" transform="rotate(-90 498 439.4)" >of transduced CD4<tspan font-size="7" dy="-3.6">+</tspan></text>
<line x1="540.8" y1="381.8" x2="609" y2="381.8" stroke="#222" stroke-width="1.1" stroke-linecap="butt"/>
<line x1="540.8" y1="385.3" x2="577.5" y2="385.3" stroke="#333" stroke-width="1.1" stroke-linecap="butt"/>
<line x1="575.5" y1="396" x2="590.4" y2="396" stroke="#222" stroke-width="1.1" stroke-linecap="butt"/>
<line x1="572.5" y1="371.4" x2="572.5" y2="379.8" stroke="#111" stroke-width="1.1" stroke-linecap="butt"/>
<line x1="568.86" y1="373.5" x2="576.14" y2="377.7" stroke="#111" stroke-width="1.1" stroke-linecap="butt"/>
<line x1="576.14" y1="373.5" x2="568.86" y2="377.7" stroke="#111" stroke-width="1.1" stroke-linecap="butt"/>
<line x1="583.5" y1="386.8" x2="583.5" y2="395.2" stroke="#111" stroke-width="1.1" stroke-linecap="butt"/>
<line x1="579.86" y1="388.9" x2="587.14" y2="393.1" stroke="#111" stroke-width="1.1" stroke-linecap="butt"/>
<line x1="587.14" y1="388.9" x2="579.86" y2="393.1" stroke="#111" stroke-width="1.1" stroke-linecap="butt"/>
<text x="-0.3" y="641.6" font-size="13" text-anchor="start" font-weight="bold" fill="#000" >g</text>
<line x1="86.65" y1="716.4" x2="86.65" y2="706.5" stroke="#111" stroke-width="1.4" stroke-linecap="butt"/>
<line x1="82.85" y1="707.1" x2="90.45" y2="707.1" stroke="#111" stroke-width="1.4" stroke-linecap="butt"/>
<rect x="80.25" y="716.75" width="12.8" height="44.05" fill="#ffffff" stroke="#111" stroke-width="1.7"/>
<line x1="106" y1="718.4" x2="106" y2="711.4" stroke="#111" stroke-width="1.4" stroke-linecap="butt"/>
<line x1="102.2" y1="712" x2="109.8" y2="712" stroke="#111" stroke-width="1.4" stroke-linecap="butt"/>
<rect x="99.35" y="718.75" width="13.3" height="42.05" fill="#ffffff" stroke="#111" stroke-width="1.7"/>
<line x1="134.1" y1="690.1" x2="134.1" y2="677.2" stroke="#111" stroke-width="1.4" stroke-linecap="butt"/>
<line x1="130.3" y1="677.8" x2="137.9" y2="677.8" stroke="#111" stroke-width="1.4" stroke-linecap="butt"/>
<rect x="127.45" y="690.45" width="13.3" height="70.35" fill="#808080" stroke="#111" stroke-width="1.7"/>
<line x1="153.3" y1="693.3" x2="153.3" y2="684.1" stroke="#111" stroke-width="1.4" stroke-linecap="butt"/>
<line x1="149.5" y1="684.7" x2="157.1" y2="684.7" stroke="#111" stroke-width="1.4" stroke-linecap="butt"/>
<rect x="146.55" y="693.65" width="13.5" height="67.15" fill="#808080" stroke="#111" stroke-width="1.7"/>
<line x1="69.5" y1="660.3" x2="69.5" y2="761.6" stroke="#111" stroke-width="1.6" stroke-linecap="butt"/>
<line x1="65" y1="760.8" x2="169.9" y2="760.8" stroke="#111" stroke-width="1.6" stroke-linecap="butt"/>
<line x1="65" y1="661.1" x2="69.5" y2="661.1" stroke="#111" stroke-width="1.6" stroke-linecap="butt"/>
<text x="61.5" y="664.72" font-size="10.1" text-anchor="end" font-weight="normal" fill="#484848" >50</text>
<line x1="65" y1="681.1" x2="69.5" y2="681.1" stroke="#111" stroke-width="1.6" stroke-linecap="butt"/>
<text x="61.5" y="684.72" font-size="10.1" text-anchor="end" font-weight="normal" fill="#484848" >40</text>
<line x1="65" y1="701" x2="69.5" y2="701" stroke="#111" stroke-width="1.6" stroke-linecap="butt"/>
<text x="61.5" y="704.62" font-size="10.1" text-anchor="end" font-weight="normal" fill="#484848" >30</text>
<line x1="65" y1="720.9" x2="69.5" y2="720.9" stroke="#111" stroke-width="1.6" stroke-linecap="butt"/>
<text x="61.5" y="724.52" font-size="10.1" text-anchor="end" font-weight="normal" fill="#484848" >20</text>
<line x1="65" y1="740.9" x2="69.5" y2="740.9" stroke="#111" stroke-width="1.6" stroke-linecap="butt"/>
<text x="61.5" y="744.52" font-size="10.1" text-anchor="end" font-weight="normal" fill="#484848" >10</text>
<line x1="65" y1="760.8" x2="69.5" y2="760.8" stroke="#111" stroke-width="1.6" stroke-linecap="butt"/>
<text x="61.5" y="764.42" font-size="10.1" text-anchor="end" font-weight="normal" fill="#484848" >0</text>
<line x1="86.5" y1="760.8" x2="86.5" y2="764.8" stroke="#111" stroke-width="1.6" stroke-linecap="butt"/>
<line x1="106" y1="760.8" x2="106" y2="764.8" stroke="#111" stroke-width="1.6" stroke-linecap="butt"/>
<line x1="134.1" y1="760.8" x2="134.1" y2="764.8" stroke="#111" stroke-width="1.6" stroke-linecap="butt"/>
<line x1="153.4" y1="760.8" x2="153.4" y2="764.8" stroke="#111" stroke-width="1.6" stroke-linecap="butt"/>
<text x="44.2" y="777.8" font-size="11.3" text-anchor="start" font-weight="normal" fill="#1c1c1c" >RA</text>
<line x1="83.8" y1="774" x2="89.2" y2="774" stroke="#222" stroke-width="1.15" stroke-linecap="butt"/>
<line x1="103.5" y1="774" x2="108.5" y2="774" stroke="#222" stroke-width="1.15" stroke-linecap="butt"/>
<line x1="106" y1="771.5" x2="106" y2="776.5" stroke="#222" stroke-width="1.15" stroke-linecap="butt"/>
<line x1="131.4" y1="774" x2="136.8" y2="774" stroke="#222" stroke-width="1.15" stroke-linecap="butt"/>
<line x1="150.9" y1="774" x2="155.9" y2="774" stroke="#222" stroke-width="1.15" stroke-linecap="butt"/>
<line x1="153.4" y1="771.5" x2="153.4" y2="776.5" stroke="#222" stroke-width="1.15" stroke-linecap="butt"/>
<text x="31.2" y="705.8" font-size="10" text-anchor="middle" font-weight="normal" fill="#1c1c1c" transform="rotate(-90 31.2 705.8)" >pS6<tspan font-size="7" dy="-3.6">+</tspan><tspan dy="3.6"> %</tspan></text>
<text x="43.2" y="704.1" font-size="10.5" text-anchor="middle" font-weight="normal" fill="#1c1c1c" transform="rotate(-90 43.2 704.1)" >of transduced CD4<tspan font-size="7" dy="-3.6">+</tspan></text>
<line x1="81.9" y1="661.8" x2="131.5" y2="661.8" stroke="#222" stroke-width="1.1" stroke-linecap="butt"/>
<line x1="103.7" y1="658.6" x2="153.1" y2="658.6" stroke="#222" stroke-width="1.1" stroke-linecap="butt"/>
<line x1="116.7" y1="644.5" x2="116.7" y2="652.9" stroke="#111" stroke-width="1.1" stroke-linecap="butt"/>
<line x1="113.06" y1="646.6" x2="120.34" y2="650.8" stroke="#111" stroke-width="1.1" stroke-linecap="butt"/>
<line x1="120.34" y1="646.6" x2="113.06" y2="650.8" stroke="#111" stroke-width="1.1" stroke-linecap="butt"/>
<rect x="173.97" y="709.67" width="14.35" height="7.65" rx="0.6" fill="#fff" stroke="#111" stroke-width="1.35"/>
<rect x="173.97" y="726.27" width="14.35" height="7.95" rx="0.6" fill="#808080" stroke="#111" stroke-width="1.35"/>
<text x="191.8" y="718.1" font-size="11.3" text-anchor="start" font-weight="normal" fill="#1c1c1c" >Empty vector</text>
<text x="194" y="734.4" font-size="11.3" text-anchor="start" font-weight="normal" fill="#1c1c1c" >Myr-Akt</text>
<text x="272.6" y="644.5" font-size="13" text-anchor="start" font-weight="bold" fill="#000" >h</text>
<line x1="341" y1="702.5" x2="341" y2="693.6" stroke="#111" stroke-width="1.4" stroke-linecap="butt"/>
<line x1="337.2" y1="694.2" x2="344.8" y2="694.2" stroke="#111" stroke-width="1.4" stroke-linecap="butt"/>
<rect x="334.35" y="702.85" width="13.3" height="58.75" fill="#ffffff" stroke="#111" stroke-width="1.7"/>
<line x1="360.6" y1="702.5" x2="360.6" y2="692.8" stroke="#111" stroke-width="1.4" stroke-linecap="butt"/>
<line x1="356.8" y1="693.4" x2="364.4" y2="693.4" stroke="#111" stroke-width="1.4" stroke-linecap="butt"/>
<rect x="353.75" y="702.85" width="13.7" height="58.75" fill="#ffffff" stroke="#111" stroke-width="1.7"/>
<line x1="388.4" y1="677.2" x2="388.4" y2="667.3" stroke="#111" stroke-width="1.4" stroke-linecap="butt"/>
<line x1="384.6" y1="667.9" x2="392.2" y2="667.9" stroke="#111" stroke-width="1.4" stroke-linecap="butt"/>
<rect x="381.55" y="677.55" width="13.7" height="84.05" fill="#808080" stroke="#111" stroke-width="1.7"/>
<line x1="407.95" y1="685.9" x2="407.95" y2="680.4" stroke="#111" stroke-width="1.4" stroke-linecap="butt"/>
<line x1="404.15" y1="681" x2="411.75" y2="681" stroke="#111" stroke-width="1.4" stroke-linecap="butt"/>
<rect x="401.25" y="686.25" width="13.4" height="75.35" fill="#808080" stroke="#111" stroke-width="1.7"/>
<line x1="324.9" y1="661" x2="324.9" y2="762.4" stroke="#111" stroke-width="1.6" stroke-linecap="butt"/>
<line x1="320" y1="761.6" x2="424.1" y2="761.6" stroke="#111" stroke-width="1.6" stroke-linecap="butt"/>
<line x1="320" y1="661.8" x2="324.9" y2="661.8" stroke="#111" stroke-width="1.6" stroke-linecap="butt"/>
<text x="316.1" y="665.42" font-size="10.1" text-anchor="end" font-weight="normal" fill="#484848" >40</text>
<line x1="320" y1="686.9" x2="324.9" y2="686.9" stroke="#111" stroke-width="1.6" stroke-linecap="butt"/>
<text x="316.1" y="690.52" font-size="10.1" text-anchor="end" font-weight="normal" fill="#484848" >30</text>
<line x1="320" y1="711.8" x2="324.9" y2="711.8" stroke="#111" stroke-width="1.6" stroke-linecap="butt"/>
<text x="316.1" y="715.42" font-size="10.1" text-anchor="end" font-weight="normal" fill="#484848" >20</text>
<line x1="320" y1="736.7" x2="324.9" y2="736.7" stroke="#111" stroke-width="1.6" stroke-linecap="butt"/>
<text x="316.1" y="740.32" font-size="10.1" text-anchor="end" font-weight="normal" fill="#484848" >10</text>
<line x1="320" y1="761.6" x2="324.9" y2="761.6" stroke="#111" stroke-width="1.6" stroke-linecap="butt"/>
<text x="316.1" y="765.22" font-size="10.1" text-anchor="end" font-weight="normal" fill="#484848" >0</text>
<line x1="341" y1="761.6" x2="341" y2="765.6" stroke="#111" stroke-width="1.6" stroke-linecap="butt"/>
<line x1="360.4" y1="761.6" x2="360.4" y2="765.6" stroke="#111" stroke-width="1.6" stroke-linecap="butt"/>
<line x1="388.2" y1="761.6" x2="388.2" y2="765.6" stroke="#111" stroke-width="1.6" stroke-linecap="butt"/>
<line x1="408" y1="761.6" x2="408" y2="765.6" stroke="#111" stroke-width="1.6" stroke-linecap="butt"/>
<text x="298.4" y="778.5" font-size="11.3" text-anchor="start" font-weight="normal" fill="#1c1c1c" >RA</text>
<line x1="338.3" y1="774" x2="343.7" y2="774" stroke="#222" stroke-width="1.15" stroke-linecap="butt"/>
<line x1="357.9" y1="774" x2="362.9" y2="774" stroke="#222" stroke-width="1.15" stroke-linecap="butt"/>
<line x1="360.4" y1="771.5" x2="360.4" y2="776.5" stroke="#222" stroke-width="1.15" stroke-linecap="butt"/>
<line x1="385.5" y1="774" x2="390.9" y2="774" stroke="#222" stroke-width="1.15" stroke-linecap="butt"/>
<line x1="405.5" y1="774" x2="410.5" y2="774" stroke="#222" stroke-width="1.15" stroke-linecap="butt"/>
<line x1="408" y1="771.5" x2="408" y2="776.5" stroke="#222" stroke-width="1.15" stroke-linecap="butt"/>
<text x="284.6" y="709.5" font-size="10" text-anchor="middle" font-weight="normal" fill="#1c1c1c" transform="rotate(-90 284.6 709.5)" >IL-17a<tspan font-size="7" dy="-3.6">+</tspan><tspan dy="3.6"> %</tspan></text>
<text x="297" y="703.8" font-size="10.5" text-anchor="middle" font-weight="normal" fill="#1c1c1c" transform="rotate(-90 297 703.8)" >of transduced CD4<tspan font-size="7" dy="-3.6">+</tspan></text>
<line x1="338.5" y1="658.6" x2="387.4" y2="658.6" stroke="#222" stroke-width="1.1" stroke-linecap="butt"/>
<line x1="360.3" y1="653.6" x2="409.2" y2="653.6" stroke="#222" stroke-width="1.1" stroke-linecap="butt"/>
<line x1="373.2" y1="640.2" x2="373.2" y2="648.6" stroke="#111" stroke-width="1.1" stroke-linecap="butt"/>
<line x1="369.56" y1="642.3" x2="376.84" y2="646.5" stroke="#111" stroke-width="1.1" stroke-linecap="butt"/>
<line x1="376.84" y1="642.3" x2="369.56" y2="646.5" stroke="#111" stroke-width="1.1" stroke-linecap="butt"/>
<line x1="501.7" y1="692.8" x2="501.7" y2="686.6" stroke="#111" stroke-width="1.4" stroke-linecap="butt"/>
<line x1="497.9" y1="687.2" x2="505.5" y2="687.2" stroke="#111" stroke-width="1.4" stroke-linecap="butt"/>
<rect x="494.85" y="693.15" width="13.7" height="67.95" fill="#ffffff" stroke="#111" stroke-width="1.7"/>
<line x1="521.45" y1="687.9" x2="521.45" y2="682.9" stroke="#111" stroke-width="1.4" stroke-linecap="butt"/>
<line x1="517.65" y1="683.5" x2="525.25" y2="683.5" stroke="#111" stroke-width="1.4" stroke-linecap="butt"/>
<rect x="514.45" y="688.25" width="14" height="72.85" fill="#ffffff" stroke="#111" stroke-width="1.7"/>
<line x1="549.15" y1="726.8" x2="549.15" y2="717.6" stroke="#111" stroke-width="1.4" stroke-linecap="butt"/>
<line x1="545.35" y1="718.2" x2="552.95" y2="718.2" stroke="#111" stroke-width="1.4" stroke-linecap="butt"/>
<rect x="542.45" y="727.15" width="13.4" height="33.95" fill="#808080" stroke="#111" stroke-width="1.7"/>
<line x1="568.65" y1="723.6" x2="568.65" y2="713.9" stroke="#111" stroke-width="1.4" stroke-linecap="butt"/>
<line x1="564.85" y1="714.5" x2="572.45" y2="714.5" stroke="#111" stroke-width="1.4" stroke-linecap="butt"/>
<rect x="561.65" y="723.95" width="14" height="37.15" fill="#808080" stroke="#111" stroke-width="1.7"/>
<line x1="485.1" y1="660.3" x2="485.1" y2="761.9" stroke="#111" stroke-width="1.6" stroke-linecap="butt"/>
<line x1="480.8" y1="761.1" x2="585.9" y2="761.1" stroke="#111" stroke-width="1.6" stroke-linecap="butt"/>
<line x1="480.8" y1="661.1" x2="485.1" y2="661.1" stroke="#111" stroke-width="1.6" stroke-linecap="butt"/>
<text x="477.2" y="664.72" font-size="10.1" text-anchor="end" font-weight="normal" fill="#484848" >100</text>
<line x1="480.8" y1="681.2" x2="485.1" y2="681.2" stroke="#111" stroke-width="1.6" stroke-linecap="butt"/>
<text x="477.2" y="684.82" font-size="10.1" text-anchor="end" font-weight="normal" fill="#484848" >80</text>
<line x1="480.8" y1="701.2" x2="485.1" y2="701.2" stroke="#111" stroke-width="1.6" stroke-linecap="butt"/>
<text x="477.2" y="704.82" font-size="10.1" text-anchor="end" font-weight="normal" fill="#484848" >60</text>
<line x1="480.8" y1="721.1" x2="485.1" y2="721.1" stroke="#111" stroke-width="1.6" stroke-linecap="butt"/>
<text x="477.2" y="724.72" font-size="10.1" text-anchor="end" font-weight="normal" fill="#484848" >40</text>
<line x1="480.8" y1="741.1" x2="485.1" y2="741.1" stroke="#111" stroke-width="1.6" stroke-linecap="butt"/>
<text x="477.2" y="744.72" font-size="10.1" text-anchor="end" font-weight="normal" fill="#484848" >20</text>
<line x1="480.8" y1="761.1" x2="485.1" y2="761.1" stroke="#111" stroke-width="1.6" stroke-linecap="butt"/>
<text x="477.2" y="764.72" font-size="10.1" text-anchor="end" font-weight="normal" fill="#484848" >0</text>
<line x1="502" y1="761.1" x2="502" y2="765.2" stroke="#111" stroke-width="1.6" stroke-linecap="butt"/>
<line x1="521.4" y1="761.1" x2="521.4" y2="765.2" stroke="#111" stroke-width="1.6" stroke-linecap="butt"/>
<line x1="549.2" y1="761.1" x2="549.2" y2="765.2" stroke="#111" stroke-width="1.6" stroke-linecap="butt"/>
<line x1="568.6" y1="761.1" x2="568.6" y2="765.2" stroke="#111" stroke-width="1.6" stroke-linecap="butt"/>
<text x="454.7" y="777.8" font-size="11.3" text-anchor="start" font-weight="normal" fill="#1c1c1c" >RA</text>
<line x1="499.3" y1="774" x2="504.7" y2="774" stroke="#222" stroke-width="1.15" stroke-linecap="butt"/>
<line x1="518.9" y1="774" x2="523.9" y2="774" stroke="#222" stroke-width="1.15" stroke-linecap="butt"/>
<line x1="521.4" y1="771.5" x2="521.4" y2="776.5" stroke="#222" stroke-width="1.15" stroke-linecap="butt"/>
<line x1="546.5" y1="774" x2="551.9" y2="774" stroke="#222" stroke-width="1.15" stroke-linecap="butt"/>
<line x1="566.1" y1="774" x2="571.1" y2="774" stroke="#222" stroke-width="1.15" stroke-linecap="butt"/>
<line x1="568.6" y1="771.5" x2="568.6" y2="776.5" stroke="#222" stroke-width="1.15" stroke-linecap="butt"/>
<text x="441.2" y="707" font-size="10" text-anchor="middle" font-weight="normal" fill="#1c1c1c" transform="rotate(-90 441.2 707)" >FoxP3<tspan font-size="7" dy="-3.6">+</tspan><tspan dy="3.6"> %</tspan></text>
<text x="454.8" y="703.8" font-size="10.5" text-anchor="middle" font-weight="normal" fill="#1c1c1c" transform="rotate(-90 454.8 703.8)" >of transduced CD4<tspan font-size="7" dy="-3.6">+</tspan></text>
<line x1="496.5" y1="669.7" x2="545.9" y2="669.7" stroke="#222" stroke-width="1.1" stroke-linecap="butt"/>
<line x1="518.6" y1="666.5" x2="567.8" y2="666.5" stroke="#222" stroke-width="1.1" stroke-linecap="butt"/>
<line x1="531.8" y1="651.9" x2="531.8" y2="660.3" stroke="#111" stroke-width="1.1" stroke-linecap="butt"/>
<line x1="528.16" y1="654" x2="535.44" y2="658.2" stroke="#111" stroke-width="1.1" stroke-linecap="butt"/>
<line x1="535.44" y1="654" x2="528.16" y2="658.2" stroke="#111" stroke-width="1.1" stroke-linecap="butt"/>
<rect x="597.27" y="707.27" width="15.25" height="7.75" rx="0.6" fill="#fff" stroke="#111" stroke-width="1.35"/>
<rect x="597.27" y="725.17" width="15.25" height="7.75" rx="0.6" fill="#808080" stroke="#111" stroke-width="1.35"/>
<text x="617" y="716" font-size="11.3" text-anchor="start" font-weight="normal" fill="#1c1c1c" >Empty vector</text>
<text x="619.5" y="733" font-size="11.3" text-anchor="start" font-weight="normal" fill="#1c1c1c" >Myr-Akt</text>
</svg></body></html>
